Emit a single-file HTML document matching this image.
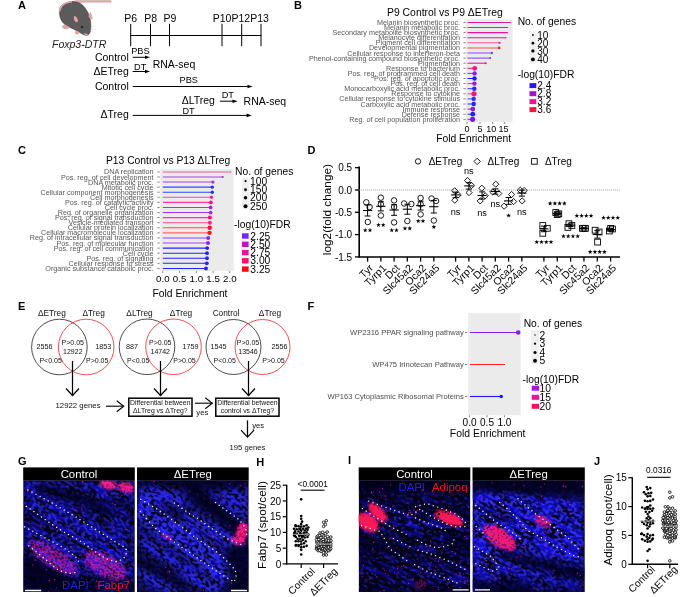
<!DOCTYPE html>
<html><head><meta charset="utf-8"><style>
html,body{margin:0;padding:0;background:#fff;}
body{width:685px;height:597px;overflow:hidden;}
svg{display:block;font-family:"Liberation Sans", sans-serif;will-change:transform;}
</style></head><body>
<svg width="685" height="597" viewBox="0 0 685 597">
<text x="18.00" y="9.30" font-size="11" text-anchor="start" fill="#000" font-weight="bold">A</text>
<text x="294.00" y="8.80" font-size="11" text-anchor="start" fill="#000" font-weight="bold">B</text>
<text x="18.00" y="153.70" font-size="11" text-anchor="start" fill="#000" font-weight="bold">C</text>
<text x="307.50" y="153.70" font-size="11" text-anchor="start" fill="#000" font-weight="bold">D</text>
<text x="18.00" y="310.00" font-size="11" text-anchor="start" fill="#000" font-weight="bold">E</text>
<text x="307.50" y="310.00" font-size="11" text-anchor="start" fill="#000" font-weight="bold">F</text>
<text x="18.00" y="465.30" font-size="11" text-anchor="start" fill="#000" font-weight="bold">G</text>
<text x="256.20" y="465.50" font-size="11" text-anchor="start" fill="#000" font-weight="bold">H</text>
<text x="348.00" y="463.50" font-size="11" text-anchor="start" fill="#000" font-weight="bold">I</text>
<text x="594.00" y="465.30" font-size="11" text-anchor="start" fill="#000" font-weight="bold">J</text>
<g>
<path d="M75,0.3 L111,0.3 L111,0.9 L75,0.9Z" fill="#8a8a8a" opacity="0.6"/>
<path d="M70,2 C80,1.2 95,1.6 111.5,1.6" stroke="#e3a3a3" stroke-width="1.9" fill="none"/>
<path d="M59.5,12.7 C59.5,7.6 60.5,6 63,4.5 C66,2.6 69,1.6 71.5,1.6 C75,1.8 78,2.2 80,3.2 C84,5.5 87,10 89,15 C90.5,19 91,24 90.8,28 C90.6,31.5 90,34 87.5,35.2 C85,35.6 82.5,34.5 79.5,32.2 C76,30.2 72.5,28.6 69,27 C65,25.2 62,22.5 60.5,18.5 C59.8,16.5 59.5,14.5 59.5,12.7Z" fill="#5b5b5b" stroke="#2e2e2e" stroke-width="0.5"/>
<path d="M59.8,11.5 C60.2,7 63,4.2 66,3 C68,2.2 70,1.8 72,1.7" stroke="#e7a3a3" stroke-width="1.5" fill="none"/>
<path d="M74.5,15.8 C76.2,16.5 78,18.5 78,21 C77.5,22.6 76,22.6 75,21.2 C73.8,19.8 73.3,17.5 74.5,15.8Z" fill="#e6a2a2"/>
<path d="M90.7,11.4 L92.7,18.4 L90.6,19.8 L88.3,16Z" fill="#e6a2a2"/>
<path d="M61.6,26.6 L64.5,24.4 L68.2,26 L68.6,28.9 L65.5,29.3 L63,28.3Z" fill="#e2a0a0"/>
<path d="M74.8,31.5 L77.8,30.8 L79.4,33 L77.5,34.6 L75.5,34Z" fill="#e2a0a0"/>
<path d="M83.2,33.4 L86.5,33.2 L88.2,34.8 L85.5,35.4Z" fill="#d89898"/>
<ellipse cx="82" cy="27" rx="1.3" ry="0.9" fill="#2a2020"/>
<path d="M90.5,27.5 L95.5,25.8 M90.5,29 L96,29.6 M90.2,30.5 L94.5,32.5 M76.5,34.5 L72.5,37.5 M78,35 L75.5,38 M80,35 L79,38" stroke="#d4d4d4" stroke-width="0.45"/>
</g>
<text x="52.00" y="47.60" font-size="10.5" text-anchor="start" fill="#222" font-style="italic">Foxp3-DTR</text>
<line x1="130.20" y1="35.50" x2="261.50" y2="35.50" stroke="#000" stroke-width="1"/>
<line x1="130.70" y1="23.80" x2="130.70" y2="46.20" stroke="#000" stroke-width="1"/>
<line x1="150.50" y1="23.80" x2="150.50" y2="46.20" stroke="#000" stroke-width="1"/>
<line x1="169.50" y1="23.80" x2="169.50" y2="46.20" stroke="#000" stroke-width="1"/>
<line x1="222.00" y1="23.80" x2="222.00" y2="46.20" stroke="#000" stroke-width="1"/>
<line x1="241.70" y1="23.80" x2="241.70" y2="46.20" stroke="#000" stroke-width="1"/>
<line x1="261.00" y1="23.80" x2="261.00" y2="46.20" stroke="#000" stroke-width="1"/>
<text x="130.70" y="21.80" font-size="10.5" text-anchor="middle" fill="#000">P6</text>
<text x="150.70" y="21.80" font-size="10.5" text-anchor="middle" fill="#000">P8</text>
<text x="170.00" y="21.80" font-size="10.5" text-anchor="middle" fill="#000">P9</text>
<text x="222.00" y="21.80" font-size="10.5" text-anchor="middle" fill="#000">P10</text>
<text x="240.80" y="21.80" font-size="10.5" text-anchor="middle" fill="#000">P12</text>
<text x="259.60" y="21.80" font-size="10.5" text-anchor="middle" fill="#000">P13</text>
<text x="128.80" y="60.60" font-size="10.5" text-anchor="end" fill="#000">Control</text>
<text x="140.40" y="54.00" font-size="9.2" text-anchor="middle" fill="#000">PBS</text>
<line x1="132.70" y1="57.30" x2="145.50" y2="57.30" stroke="#000" stroke-width="1"/>
<path d="M150.00,57.30 L145.00,55.50 L145.00,59.10 Z" fill="#000"/>
<text x="128.80" y="74.50" font-size="10.5" text-anchor="end" fill="#000">ΔETreg</text>
<text x="140.20" y="69.90" font-size="9.2" text-anchor="middle" fill="#000">DT</text>
<line x1="132.70" y1="71.50" x2="145.50" y2="71.50" stroke="#000" stroke-width="1"/>
<path d="M150.00,71.50 L145.00,69.70 L145.00,73.30 Z" fill="#000"/>
<text x="152.70" y="67.80" font-size="10.5" text-anchor="start" fill="#000">RNA-seq</text>
<text x="128.80" y="89.60" font-size="10.5" text-anchor="end" fill="#000">Control</text>
<line x1="132.70" y1="86.50" x2="248.00" y2="86.50" stroke="#000" stroke-width="1"/>
<path d="M252.50,86.50 L247.50,84.70 L247.50,88.30 Z" fill="#000"/>
<text x="188.80" y="83.00" font-size="9.2" text-anchor="middle" fill="#000">PBS</text>
<text x="181.70" y="103.80" font-size="10.5" text-anchor="start" fill="#000">ΔLTreg</text>
<text x="227.80" y="98.20" font-size="9.2" text-anchor="middle" fill="#000">DT</text>
<line x1="220.00" y1="101.20" x2="233.00" y2="101.20" stroke="#000" stroke-width="1"/>
<path d="M237.50,101.20 L232.50,99.40 L232.50,103.00 Z" fill="#000"/>
<text x="243.60" y="105.20" font-size="10.5" text-anchor="start" fill="#000">RNA-seq</text>
<text x="128.80" y="118.30" font-size="10.5" text-anchor="end" fill="#000">ΔTreg</text>
<text x="188.50" y="113.70" font-size="9.2" text-anchor="middle" fill="#000">DT</text>
<line x1="132.70" y1="115.40" x2="247.10" y2="115.40" stroke="#000" stroke-width="1"/>
<path d="M251.60,115.40 L246.60,113.60 L246.60,117.20 Z" fill="#000"/>
<text x="387.00" y="15.50" font-size="10.4" text-anchor="start" fill="#000">P9 Control vs P9 ΔETreg</text>
<rect x="466.00" y="19.30" width="46.60" height="102.60" fill="#EBEBEB"/>
<text x="460.00" y="24.95" font-size="7.2" text-anchor="end" fill="#575757">Melanin biosynthetic proc.</text>
<line x1="463.40" y1="22.40" x2="465.80" y2="22.40" stroke="#333" stroke-width="0.6"/>
<line x1="467.50" y1="22.40" x2="510.70" y2="22.40" stroke="#E4179F" stroke-width="1.05"/>
<circle cx="510.70" cy="22.40" r="0.60" fill="#E4179F"/>
<text x="460.00" y="30.05" font-size="7.2" text-anchor="end" fill="#575757">Melanin metabolic proc.</text>
<line x1="463.40" y1="27.50" x2="465.80" y2="27.50" stroke="#333" stroke-width="0.6"/>
<line x1="467.50" y1="27.50" x2="507.60" y2="27.50" stroke="#E4179F" stroke-width="1.05"/>
<circle cx="507.60" cy="27.50" r="0.60" fill="#E4179F"/>
<text x="460.00" y="35.15" font-size="7.2" text-anchor="end" fill="#575757">Secondary metabolite biosynthetic proc.</text>
<line x1="463.40" y1="32.60" x2="465.80" y2="32.60" stroke="#333" stroke-width="0.6"/>
<line x1="467.50" y1="32.60" x2="507.60" y2="32.60" stroke="#E4179F" stroke-width="1.05"/>
<circle cx="507.60" cy="32.60" r="0.60" fill="#E4179F"/>
<text x="460.00" y="40.25" font-size="7.2" text-anchor="end" fill="#575757">Melanocyte differentiation</text>
<line x1="463.40" y1="37.70" x2="465.80" y2="37.70" stroke="#333" stroke-width="0.6"/>
<line x1="467.50" y1="37.70" x2="505.80" y2="37.70" stroke="#E4179F" stroke-width="1.05"/>
<circle cx="505.80" cy="37.70" r="0.80" fill="#E4179F"/>
<text x="460.00" y="45.35" font-size="7.2" text-anchor="end" fill="#575757">Pigment cell differentiation</text>
<line x1="463.40" y1="42.80" x2="465.80" y2="42.80" stroke="#333" stroke-width="0.6"/>
<line x1="467.50" y1="42.80" x2="499.60" y2="42.80" stroke="#EE55AA" stroke-width="1.05"/>
<circle cx="499.60" cy="42.80" r="1.10" fill="#EE2299"/>
<text x="460.00" y="50.45" font-size="7.2" text-anchor="end" fill="#575757">Developmental pigmentation</text>
<line x1="463.40" y1="47.90" x2="465.80" y2="47.90" stroke="#333" stroke-width="0.6"/>
<line x1="467.50" y1="47.90" x2="499.20" y2="47.90" stroke="#F55050" stroke-width="1.05"/>
<circle cx="499.20" cy="47.90" r="1.30" fill="#FF2020"/>
<text x="460.00" y="55.55" font-size="7.2" text-anchor="end" fill="#575757">Cellular response to interferon-beta</text>
<line x1="463.40" y1="53.00" x2="465.80" y2="53.00" stroke="#333" stroke-width="0.6"/>
<line x1="467.50" y1="53.00" x2="491.90" y2="53.00" stroke="#9944FF" stroke-width="1.05"/>
<circle cx="491.90" cy="53.00" r="1.20" fill="#9933FF"/>
<text x="460.00" y="60.65" font-size="7.2" text-anchor="end" fill="#575757">Phenol-containing compound biosynthetic proc.</text>
<line x1="463.40" y1="58.10" x2="465.80" y2="58.10" stroke="#333" stroke-width="0.6"/>
<line x1="467.50" y1="58.10" x2="490.20" y2="58.10" stroke="#8844FF" stroke-width="1.05"/>
<circle cx="490.20" cy="58.10" r="1.00" fill="#8833FF"/>
<text x="460.00" y="65.75" font-size="7.2" text-anchor="end" fill="#575757">Pigmentation</text>
<line x1="463.40" y1="63.20" x2="465.80" y2="63.20" stroke="#333" stroke-width="0.6"/>
<line x1="467.50" y1="63.20" x2="485.70" y2="63.20" stroke="#EE1188" stroke-width="1.05"/>
<circle cx="485.70" cy="63.20" r="1.00" fill="#EE1188"/>
<text x="460.00" y="70.85" font-size="7.2" text-anchor="end" fill="#575757">Response to bacterium</text>
<line x1="463.40" y1="68.30" x2="465.80" y2="68.30" stroke="#333" stroke-width="0.6"/>
<line x1="467.50" y1="68.30" x2="474.70" y2="68.30" stroke="#F0187F" stroke-width="1.05"/>
<circle cx="474.70" cy="68.30" r="2.40" fill="#F0187F"/>
<text x="460.00" y="75.95" font-size="7.2" text-anchor="end" fill="#575757">Pos. reg. of programmed cell death</text>
<line x1="463.40" y1="73.40" x2="465.80" y2="73.40" stroke="#333" stroke-width="0.6"/>
<line x1="467.50" y1="73.40" x2="474.60" y2="73.40" stroke="#8030F0" stroke-width="1.05"/>
<circle cx="474.60" cy="73.40" r="2.20" fill="#8020F0"/>
<text x="460.00" y="81.05" font-size="7.2" text-anchor="end" fill="#575757">Pos. reg. of apoptotic proc.</text>
<line x1="463.40" y1="78.50" x2="465.80" y2="78.50" stroke="#333" stroke-width="0.6"/>
<line x1="467.50" y1="78.50" x2="474.50" y2="78.50" stroke="#1A1AFF" stroke-width="1.05"/>
<circle cx="474.50" cy="78.50" r="2.20" fill="#1A1AFF"/>
<text x="460.00" y="86.15" font-size="7.2" text-anchor="end" fill="#575757">Pos. reg. of cell death</text>
<line x1="463.40" y1="83.60" x2="465.80" y2="83.60" stroke="#333" stroke-width="0.6"/>
<line x1="467.50" y1="83.60" x2="474.40" y2="83.60" stroke="#A040E0" stroke-width="1.05"/>
<circle cx="474.40" cy="83.60" r="2.20" fill="#9A1CE0"/>
<text x="460.00" y="91.25" font-size="7.2" text-anchor="end" fill="#575757">Monocarboxylic acid metabolic proc.</text>
<line x1="463.40" y1="88.70" x2="465.80" y2="88.70" stroke="#333" stroke-width="0.6"/>
<line x1="467.50" y1="88.70" x2="474.30" y2="88.70" stroke="#3A3AFF" stroke-width="1.05"/>
<circle cx="474.30" cy="88.70" r="2.20" fill="#2A2AFF"/>
<text x="460.00" y="96.35" font-size="7.2" text-anchor="end" fill="#575757">Response to cytokine</text>
<line x1="463.40" y1="93.80" x2="465.80" y2="93.80" stroke="#333" stroke-width="0.6"/>
<line x1="467.50" y1="93.80" x2="474.00" y2="93.80" stroke="#F04090" stroke-width="1.05"/>
<circle cx="474.00" cy="93.80" r="2.60" fill="#F01A80"/>
<text x="460.00" y="101.45" font-size="7.2" text-anchor="end" fill="#575757">Cellular response to cytokine stimulus</text>
<line x1="463.40" y1="98.90" x2="465.80" y2="98.90" stroke="#333" stroke-width="0.6"/>
<line x1="467.50" y1="98.90" x2="473.70" y2="98.90" stroke="#5050FF" stroke-width="1.05"/>
<circle cx="473.70" cy="98.90" r="2.20" fill="#3030FF"/>
<text x="460.00" y="106.55" font-size="7.2" text-anchor="end" fill="#575757">Carboxylic acid metabolic proc.</text>
<line x1="463.40" y1="104.00" x2="465.80" y2="104.00" stroke="#333" stroke-width="0.6"/>
<line x1="467.50" y1="104.00" x2="473.70" y2="104.00" stroke="#3030FF" stroke-width="1.05"/>
<circle cx="473.70" cy="104.00" r="2.20" fill="#2020FF"/>
<text x="460.00" y="111.65" font-size="7.2" text-anchor="end" fill="#575757">Immune response</text>
<line x1="463.40" y1="109.10" x2="465.80" y2="109.10" stroke="#333" stroke-width="0.6"/>
<line x1="467.50" y1="109.10" x2="472.80" y2="109.10" stroke="#9030E0" stroke-width="1.05"/>
<circle cx="472.80" cy="109.10" r="2.40" fill="#8A1AE0"/>
<text x="460.00" y="116.75" font-size="7.2" text-anchor="end" fill="#575757">Defense response</text>
<line x1="463.40" y1="114.20" x2="465.80" y2="114.20" stroke="#333" stroke-width="0.6"/>
<line x1="467.50" y1="114.20" x2="472.80" y2="114.20" stroke="#3030FF" stroke-width="1.05"/>
<circle cx="472.80" cy="114.20" r="2.40" fill="#2020FF"/>
<text x="460.00" y="121.85" font-size="7.2" text-anchor="end" fill="#575757">Reg. of cell population proliferation</text>
<line x1="463.40" y1="119.30" x2="465.80" y2="119.30" stroke="#333" stroke-width="0.6"/>
<line x1="467.50" y1="119.30" x2="472.60" y2="119.30" stroke="#8030EE" stroke-width="1.05"/>
<circle cx="472.60" cy="119.30" r="2.60" fill="#7A1AEE"/>
<line x1="467.00" y1="122.00" x2="467.00" y2="124.00" stroke="#333" stroke-width="0.6"/>
<line x1="480.00" y1="122.00" x2="480.00" y2="124.00" stroke="#333" stroke-width="0.6"/>
<line x1="492.70" y1="122.00" x2="492.70" y2="124.00" stroke="#333" stroke-width="0.6"/>
<line x1="504.80" y1="122.00" x2="504.80" y2="124.00" stroke="#333" stroke-width="0.6"/>
<text x="467.00" y="132.00" font-size="9" text-anchor="middle" fill="#000">0</text>
<text x="480.00" y="132.00" font-size="9" text-anchor="middle" fill="#000">5</text>
<text x="491.30" y="132.00" font-size="9" text-anchor="middle" fill="#000">10</text>
<text x="503.50" y="132.00" font-size="9" text-anchor="middle" fill="#000">15</text>
<text x="473.70" y="142.40" font-size="10.3" text-anchor="middle" fill="#000">Fold Enrichment</text>
<text x="517.70" y="24.60" font-size="10.3" text-anchor="start" fill="#000">No. of genes</text>
<rect x="529.30" y="31.20" width="7.40" height="32.20" fill="#F0F0F0"/>
<circle cx="532.90" cy="34.90" r="0.90" fill="#000"/>
<text x="537.30" y="38.50" font-size="10" text-anchor="start" fill="#000">10</text>
<circle cx="532.90" cy="43.20" r="1.35" fill="#000"/>
<text x="537.30" y="46.80" font-size="10" text-anchor="start" fill="#000">20</text>
<circle cx="532.90" cy="50.90" r="1.65" fill="#000"/>
<text x="537.30" y="54.50" font-size="10" text-anchor="start" fill="#000">30</text>
<circle cx="532.90" cy="59.40" r="1.95" fill="#000"/>
<text x="537.30" y="63.00" font-size="10" text-anchor="start" fill="#000">40</text>
<text x="517.70" y="77.70" font-size="10.3" text-anchor="start" fill="#000">-log(10)FDR</text>
<rect x="529.50" y="83.10" width="6.80" height="5.00" fill="#3311FF"/>
<text x="537.30" y="89.10" font-size="10" text-anchor="start" fill="#000">2.4</text>
<rect x="529.50" y="91.20" width="6.80" height="5.00" fill="#AA11CC"/>
<text x="537.30" y="97.20" font-size="10" text-anchor="start" fill="#000">2.8</text>
<rect x="529.50" y="99.10" width="6.80" height="5.00" fill="#EE1199"/>
<text x="537.30" y="105.10" font-size="10" text-anchor="start" fill="#000">3.2</text>
<rect x="529.50" y="107.10" width="6.80" height="5.00" fill="#FF1144"/>
<text x="537.30" y="113.10" font-size="10" text-anchor="start" fill="#000">3.6</text>
<text x="106.00" y="164.30" font-size="10.3" text-anchor="start" fill="#000">P13 Control vs P13 ΔLTreg</text>
<rect x="160.30" y="168.80" width="73.40" height="102.20" fill="#EBEBEB"/>
<text x="153.60" y="174.45" font-size="7.2" text-anchor="end" fill="#575757">DNA replication</text>
<line x1="157.40" y1="171.90" x2="159.70" y2="171.90" stroke="#333" stroke-width="0.6"/>
<line x1="162.80" y1="171.90" x2="230.70" y2="171.90" stroke="#EE55AA" stroke-width="1.05"/>
<circle cx="230.70" cy="171.90" r="0.70" fill="#EE55AA"/>
<text x="153.60" y="179.53" font-size="7.2" text-anchor="end" fill="#575757">Pos. reg. of cell development</text>
<line x1="157.40" y1="176.98" x2="159.70" y2="176.98" stroke="#333" stroke-width="0.6"/>
<line x1="162.80" y1="176.98" x2="222.70" y2="176.98" stroke="#AA44EE" stroke-width="1.05"/>
<circle cx="222.70" cy="176.98" r="1.10" fill="#9933EE"/>
<text x="153.60" y="184.61" font-size="7.2" text-anchor="end" fill="#575757">DNA metabolic proc.</text>
<line x1="157.40" y1="182.06" x2="159.70" y2="182.06" stroke="#333" stroke-width="0.6"/>
<line x1="162.80" y1="182.06" x2="212.90" y2="182.06" stroke="#AA44DD" stroke-width="1.05"/>
<circle cx="212.90" cy="182.06" r="1.60" fill="#AA33DD"/>
<text x="153.60" y="189.69" font-size="7.2" text-anchor="end" fill="#575757">Mitotic cell cycle</text>
<line x1="157.40" y1="187.14" x2="159.70" y2="187.14" stroke="#333" stroke-width="0.6"/>
<line x1="162.80" y1="187.14" x2="212.30" y2="187.14" stroke="#3344FF" stroke-width="1.05"/>
<circle cx="212.30" cy="187.14" r="1.70" fill="#2233FF"/>
<text x="153.60" y="194.77" font-size="7.2" text-anchor="end" fill="#575757">Cellular component morphogenesis</text>
<line x1="157.40" y1="192.22" x2="159.70" y2="192.22" stroke="#333" stroke-width="0.6"/>
<line x1="162.80" y1="192.22" x2="212.30" y2="192.22" stroke="#3344FF" stroke-width="1.05"/>
<circle cx="212.30" cy="192.22" r="1.70" fill="#2233FF"/>
<text x="153.60" y="199.85" font-size="7.2" text-anchor="end" fill="#575757">Cell morphogenesis</text>
<line x1="157.40" y1="197.30" x2="159.70" y2="197.30" stroke="#333" stroke-width="0.6"/>
<line x1="162.80" y1="197.30" x2="211.50" y2="197.30" stroke="#EE44AA" stroke-width="1.05"/>
<circle cx="211.50" cy="197.30" r="1.70" fill="#EE2299"/>
<text x="153.60" y="204.93" font-size="7.2" text-anchor="end" fill="#575757">Pos. reg. of catalytic activity</text>
<line x1="157.40" y1="202.38" x2="159.70" y2="202.38" stroke="#333" stroke-width="0.6"/>
<line x1="162.80" y1="202.38" x2="210.90" y2="202.38" stroke="#FF3399" stroke-width="1.05"/>
<circle cx="210.90" cy="202.38" r="1.90" fill="#FF1188"/>
<text x="153.60" y="210.01" font-size="7.2" text-anchor="end" fill="#575757">Cell cycle proc.</text>
<line x1="157.40" y1="207.46" x2="159.70" y2="207.46" stroke="#333" stroke-width="0.6"/>
<line x1="162.80" y1="207.46" x2="210.60" y2="207.46" stroke="#AA33DD" stroke-width="1.05"/>
<circle cx="210.60" cy="207.46" r="1.90" fill="#AA22DD"/>
<text x="153.60" y="215.09" font-size="7.2" text-anchor="end" fill="#575757">Reg. of organelle organization</text>
<line x1="157.40" y1="212.54" x2="159.70" y2="212.54" stroke="#333" stroke-width="0.6"/>
<line x1="162.80" y1="212.54" x2="210.60" y2="212.54" stroke="#AA33DD" stroke-width="1.05"/>
<circle cx="210.60" cy="212.54" r="1.90" fill="#AA22DD"/>
<text x="153.60" y="220.17" font-size="7.2" text-anchor="end" fill="#575757">Pos. reg. of signal transduction</text>
<line x1="157.40" y1="217.62" x2="159.70" y2="217.62" stroke="#333" stroke-width="0.6"/>
<line x1="162.80" y1="217.62" x2="209.90" y2="217.62" stroke="#FF3388" stroke-width="1.05"/>
<circle cx="209.90" cy="217.62" r="2.00" fill="#FF1177"/>
<text x="153.60" y="225.25" font-size="7.2" text-anchor="end" fill="#575757">Vesicle-mediated transport</text>
<line x1="157.40" y1="222.70" x2="159.70" y2="222.70" stroke="#333" stroke-width="0.6"/>
<line x1="162.80" y1="222.70" x2="209.90" y2="222.70" stroke="#FF4499" stroke-width="1.05"/>
<circle cx="209.90" cy="222.70" r="2.00" fill="#FF2288"/>
<text x="153.60" y="230.33" font-size="7.2" text-anchor="end" fill="#575757">Cellular protein localization</text>
<line x1="157.40" y1="227.78" x2="159.70" y2="227.78" stroke="#333" stroke-width="0.6"/>
<line x1="162.80" y1="227.78" x2="209.70" y2="227.78" stroke="#FF4455" stroke-width="1.05"/>
<circle cx="209.70" cy="227.78" r="2.20" fill="#FF1133"/>
<text x="153.60" y="235.41" font-size="7.2" text-anchor="end" fill="#575757">Cellular macromolecule localization</text>
<line x1="157.40" y1="232.86" x2="159.70" y2="232.86" stroke="#333" stroke-width="0.6"/>
<line x1="162.80" y1="232.86" x2="209.50" y2="232.86" stroke="#FF6666" stroke-width="1.05"/>
<circle cx="209.50" cy="232.86" r="2.20" fill="#FF1111"/>
<text x="153.60" y="240.49" font-size="7.2" text-anchor="end" fill="#575757">Reg. of intracellular signal transduction</text>
<line x1="157.40" y1="237.94" x2="159.70" y2="237.94" stroke="#333" stroke-width="0.6"/>
<line x1="162.80" y1="237.94" x2="208.20" y2="237.94" stroke="#8844FF" stroke-width="1.05"/>
<circle cx="208.20" cy="237.94" r="2.00" fill="#7733FF"/>
<text x="153.60" y="245.57" font-size="7.2" text-anchor="end" fill="#575757">Pos. reg. of molecular function</text>
<line x1="157.40" y1="243.02" x2="159.70" y2="243.02" stroke="#333" stroke-width="0.6"/>
<line x1="162.80" y1="243.02" x2="208.00" y2="243.02" stroke="#AA44DD" stroke-width="1.05"/>
<circle cx="208.00" cy="243.02" r="2.00" fill="#9922DD"/>
<text x="153.60" y="250.65" font-size="7.2" text-anchor="end" fill="#575757">Pos. reg. of cell communication</text>
<line x1="157.40" y1="248.10" x2="159.70" y2="248.10" stroke="#333" stroke-width="0.6"/>
<line x1="162.80" y1="248.10" x2="207.20" y2="248.10" stroke="#2222FF" stroke-width="1.05"/>
<circle cx="207.20" cy="248.10" r="1.90" fill="#2222FF"/>
<text x="153.60" y="255.73" font-size="7.2" text-anchor="end" fill="#575757">Cell cycle</text>
<line x1="157.40" y1="253.18" x2="159.70" y2="253.18" stroke="#333" stroke-width="0.6"/>
<line x1="162.80" y1="253.18" x2="207.00" y2="253.18" stroke="#2222FF" stroke-width="1.05"/>
<circle cx="207.00" cy="253.18" r="1.90" fill="#2222FF"/>
<text x="153.60" y="260.81" font-size="7.2" text-anchor="end" fill="#575757">Pos. reg. of signaling</text>
<line x1="157.40" y1="258.26" x2="159.70" y2="258.26" stroke="#333" stroke-width="0.6"/>
<line x1="162.80" y1="258.26" x2="207.00" y2="258.26" stroke="#2222FF" stroke-width="1.05"/>
<circle cx="207.00" cy="258.26" r="1.90" fill="#2222FF"/>
<text x="153.60" y="265.89" font-size="7.2" text-anchor="end" fill="#575757">Cellular response to stress</text>
<line x1="157.40" y1="263.34" x2="159.70" y2="263.34" stroke="#333" stroke-width="0.6"/>
<line x1="162.80" y1="263.34" x2="206.80" y2="263.34" stroke="#2222FF" stroke-width="1.05"/>
<circle cx="206.80" cy="263.34" r="1.90" fill="#2222FF"/>
<text x="153.60" y="270.97" font-size="7.2" text-anchor="end" fill="#575757">Organic substance catabolic proc.</text>
<line x1="157.40" y1="268.42" x2="159.70" y2="268.42" stroke="#333" stroke-width="0.6"/>
<line x1="162.80" y1="268.42" x2="206.00" y2="268.42" stroke="#2222FF" stroke-width="1.05"/>
<circle cx="206.00" cy="268.42" r="2.00" fill="#2222FF"/>
<line x1="162.80" y1="271.00" x2="162.80" y2="273.00" stroke="#333" stroke-width="0.6"/>
<text x="162.80" y="281.80" font-size="9.7" text-anchor="middle" fill="#000">0.0</text>
<line x1="179.55" y1="271.00" x2="179.55" y2="273.00" stroke="#333" stroke-width="0.6"/>
<text x="179.55" y="281.80" font-size="9.7" text-anchor="middle" fill="#000">0.5</text>
<line x1="196.30" y1="271.00" x2="196.30" y2="273.00" stroke="#333" stroke-width="0.6"/>
<text x="196.30" y="281.80" font-size="9.7" text-anchor="middle" fill="#000">1.0</text>
<line x1="213.05" y1="271.00" x2="213.05" y2="273.00" stroke="#333" stroke-width="0.6"/>
<text x="213.05" y="281.80" font-size="9.7" text-anchor="middle" fill="#000">1.5</text>
<line x1="229.80" y1="271.00" x2="229.80" y2="273.00" stroke="#333" stroke-width="0.6"/>
<text x="229.80" y="281.80" font-size="9.7" text-anchor="middle" fill="#000">2.0</text>
<text x="190.00" y="297.20" font-size="10.3" text-anchor="middle" fill="#000">Fold Enrichment</text>
<text x="235.00" y="175.00" font-size="10.3" text-anchor="start" fill="#000">No. of genes</text>
<rect x="242.00" y="177.70" width="7.00" height="31.50" fill="#F0F0F0"/>
<circle cx="245.50" cy="181.10" r="1.10" fill="#000"/>
<text x="250.00" y="184.70" font-size="10.3" text-anchor="start" fill="#000">100</text>
<circle cx="245.50" cy="189.70" r="1.45" fill="#000"/>
<text x="250.00" y="193.30" font-size="10.3" text-anchor="start" fill="#000">150</text>
<circle cx="245.50" cy="197.80" r="1.75" fill="#000"/>
<text x="250.00" y="201.40" font-size="10.3" text-anchor="start" fill="#000">200</text>
<circle cx="245.50" cy="206.20" r="2.00" fill="#000"/>
<text x="250.00" y="209.80" font-size="10.3" text-anchor="start" fill="#000">250</text>
<text x="234.00" y="228.30" font-size="10.3" text-anchor="start" fill="#000">-log(10)FDR</text>
<rect x="242.00" y="233.30" width="6.60" height="5.40" fill="#7A22FF"/>
<text x="250.30" y="239.60" font-size="10.3" text-anchor="start" fill="#000">2.25</text>
<rect x="242.00" y="241.60" width="6.60" height="5.40" fill="#C010D0"/>
<text x="250.30" y="247.90" font-size="10.3" text-anchor="start" fill="#000">2.50</text>
<rect x="242.00" y="249.90" width="6.60" height="5.40" fill="#EE1199"/>
<text x="250.30" y="256.20" font-size="10.3" text-anchor="start" fill="#000">2.75</text>
<rect x="242.00" y="258.10" width="6.60" height="5.40" fill="#FF1166"/>
<text x="250.30" y="264.40" font-size="10.3" text-anchor="start" fill="#000">3.00</text>
<rect x="242.00" y="266.40" width="6.60" height="5.40" fill="#FF0A0A"/>
<text x="250.30" y="272.70" font-size="10.3" text-anchor="start" fill="#000">3.25</text>
<rect x="468.20" y="313.00" width="52.50" height="102.30" fill="#EBEBEB"/>
<text x="463.80" y="335.20" font-size="7.6" text-anchor="end" fill="#4D4D4D">WP2316 PPAR signaling pathway</text>
<line x1="465.00" y1="332.50" x2="467.30" y2="332.50" stroke="#333" stroke-width="0.6"/>
<line x1="470.00" y1="332.50" x2="518.20" y2="332.50" stroke="#8A1AEE" stroke-width="1.1"/>
<circle cx="518.20" cy="332.50" r="2.30" fill="#8A1AEE"/>
<text x="463.80" y="367.20" font-size="7.6" text-anchor="end" fill="#4D4D4D">WP475 Irinotecan Pathway</text>
<line x1="465.00" y1="364.50" x2="467.30" y2="364.50" stroke="#333" stroke-width="0.6"/>
<line x1="470.00" y1="364.50" x2="505.00" y2="364.50" stroke="#FF2020" stroke-width="1.1"/>
<text x="463.80" y="399.20" font-size="7.6" text-anchor="end" fill="#4D4D4D">WP163 Cytoplasmic Ribosomal Proteins</text>
<line x1="465.00" y1="396.50" x2="467.30" y2="396.50" stroke="#333" stroke-width="0.6"/>
<line x1="470.00" y1="396.50" x2="501.20" y2="396.50" stroke="#1A1AFF" stroke-width="1.1"/>
<circle cx="501.20" cy="396.50" r="1.80" fill="#1A1AFF"/>
<line x1="469.60" y1="415.30" x2="469.60" y2="417.30" stroke="#333" stroke-width="0.6"/>
<text x="469.60" y="425.80" font-size="10.1" text-anchor="middle" fill="#000">0.0</text>
<line x1="487.00" y1="415.30" x2="487.00" y2="417.30" stroke="#333" stroke-width="0.6"/>
<text x="487.00" y="425.80" font-size="10.1" text-anchor="middle" fill="#000">0.5</text>
<line x1="504.40" y1="415.30" x2="504.40" y2="417.30" stroke="#333" stroke-width="0.6"/>
<text x="504.40" y="425.80" font-size="10.1" text-anchor="middle" fill="#000">1.0</text>
<text x="487.70" y="437.40" font-size="10.4" text-anchor="middle" fill="#000">Fold Enrichment</text>
<text x="523.70" y="327.00" font-size="10.3" text-anchor="start" fill="#000">No. of genes</text>
<rect x="531.20" y="330.00" width="7.50" height="34.50" fill="#F0F0F0"/>
<circle cx="535.00" cy="335.00" r="0.70" fill="#000"/>
<text x="539.60" y="338.60" font-size="10.3" text-anchor="start" fill="#000">2</text>
<circle cx="535.00" cy="343.70" r="1.15" fill="#000"/>
<text x="539.60" y="347.30" font-size="10.3" text-anchor="start" fill="#000">3</text>
<circle cx="535.00" cy="352.50" r="1.55" fill="#000"/>
<text x="539.60" y="356.10" font-size="10.3" text-anchor="start" fill="#000">4</text>
<circle cx="535.00" cy="360.70" r="1.95" fill="#000"/>
<text x="539.60" y="364.30" font-size="10.3" text-anchor="start" fill="#000">5</text>
<text x="522.50" y="382.60" font-size="10.3" text-anchor="start" fill="#000">-log(10)FDR</text>
<rect x="531.70" y="385.70" width="7.30" height="5.00" fill="#B010E0"/>
<text x="539.60" y="391.80" font-size="10.3" text-anchor="start" fill="#000">10</text>
<rect x="531.70" y="394.80" width="7.30" height="5.00" fill="#EE1199"/>
<text x="539.60" y="400.90" font-size="10.3" text-anchor="start" fill="#000">15</text>
<rect x="531.70" y="403.80" width="7.30" height="5.00" fill="#FF1155"/>
<text x="539.60" y="409.90" font-size="10.3" text-anchor="start" fill="#000">20</text>
<circle cx="418" cy="161.4" r="2.7" fill="none" stroke="#000" stroke-width="0.9"/>
<text x="428.70" y="165.00" font-size="10" text-anchor="start" fill="#000">ΔETreg</text>
<path d="M477.2,158.2 L480.4,161.4 L477.2,164.6 L474,161.4Z" fill="none" stroke="#000" stroke-width="0.9"/>
<text x="487.50" y="165.00" font-size="10" text-anchor="start" fill="#000">ΔLTreg</text>
<rect x="531.6" y="158.6" width="5.6" height="5.6" fill="none" stroke="#000" stroke-width="0.9"/>
<text x="544.90" y="165.00" font-size="10" text-anchor="start" fill="#000">ΔTreg</text>
<line x1="359.20" y1="166.50" x2="359.20" y2="257.60" stroke="#000" stroke-width="1.6"/>
<line x1="355.00" y1="167.70" x2="359.20" y2="167.70" stroke="#000" stroke-width="1.3"/>
<text x="352.20" y="171.30" font-size="10" text-anchor="end" fill="#000">0.5</text>
<line x1="355.00" y1="190.00" x2="359.20" y2="190.00" stroke="#000" stroke-width="1.3"/>
<text x="352.20" y="193.60" font-size="10" text-anchor="end" fill="#000">0.0</text>
<line x1="355.00" y1="212.30" x2="359.20" y2="212.30" stroke="#000" stroke-width="1.3"/>
<text x="352.20" y="215.90" font-size="10" text-anchor="end" fill="#000">-0.5</text>
<line x1="355.00" y1="234.60" x2="359.20" y2="234.60" stroke="#000" stroke-width="1.3"/>
<text x="352.20" y="238.20" font-size="10" text-anchor="end" fill="#000">-1.0</text>
<line x1="355.00" y1="256.90" x2="359.20" y2="256.90" stroke="#000" stroke-width="1.3"/>
<text x="352.20" y="260.50" font-size="10" text-anchor="end" fill="#000">-1.5</text>
<line x1="359.20" y1="190.00" x2="620.00" y2="190.00" stroke="#999" stroke-width="0.9" stroke-dasharray="1,1"/>
<line x1="358.40" y1="257.00" x2="620.00" y2="257.00" stroke="#000" stroke-width="1.6"/>
<text x="0.00" y="0.00" font-size="11.8" text-anchor="middle" fill="#000" transform="translate(331.2,209.6) rotate(-90)">log2(fold change)</text>
<line x1="367.60" y1="257.00" x2="367.60" y2="261.60" stroke="#000" stroke-width="1.3"/>
<text x="0.00" y="0.00" font-size="10.4" text-anchor="end" fill="#000" transform="translate(373.80,268.6) rotate(-45)">Tyr</text>
<line x1="380.85" y1="257.00" x2="380.85" y2="261.60" stroke="#000" stroke-width="1.3"/>
<text x="0.00" y="0.00" font-size="10.4" text-anchor="end" fill="#000" transform="translate(387.05,268.6) rotate(-45)">Tyrp1</text>
<line x1="394.10" y1="257.00" x2="394.10" y2="261.60" stroke="#000" stroke-width="1.3"/>
<text x="0.00" y="0.00" font-size="10.4" text-anchor="end" fill="#000" transform="translate(400.30,268.6) rotate(-45)">Dct</text>
<line x1="407.35" y1="257.00" x2="407.35" y2="261.60" stroke="#000" stroke-width="1.3"/>
<text x="0.00" y="0.00" font-size="10.4" text-anchor="end" fill="#000" transform="translate(413.55,268.6) rotate(-45)">Slc45a2</text>
<line x1="420.60" y1="257.00" x2="420.60" y2="261.60" stroke="#000" stroke-width="1.3"/>
<text x="0.00" y="0.00" font-size="10.4" text-anchor="end" fill="#000" transform="translate(426.80,268.6) rotate(-45)">Oca2</text>
<line x1="433.85" y1="257.00" x2="433.85" y2="261.60" stroke="#000" stroke-width="1.3"/>
<text x="0.00" y="0.00" font-size="10.4" text-anchor="end" fill="#000" transform="translate(440.05,268.6) rotate(-45)">Slc24a5</text>
<line x1="455.60" y1="257.00" x2="455.60" y2="261.60" stroke="#000" stroke-width="1.3"/>
<text x="0.00" y="0.00" font-size="10.4" text-anchor="end" fill="#000" transform="translate(461.80,268.6) rotate(-45)">Tyr</text>
<line x1="468.85" y1="257.00" x2="468.85" y2="261.60" stroke="#000" stroke-width="1.3"/>
<text x="0.00" y="0.00" font-size="10.4" text-anchor="end" fill="#000" transform="translate(475.05,268.6) rotate(-45)">Tyrp1</text>
<line x1="482.10" y1="257.00" x2="482.10" y2="261.60" stroke="#000" stroke-width="1.3"/>
<text x="0.00" y="0.00" font-size="10.4" text-anchor="end" fill="#000" transform="translate(488.30,268.6) rotate(-45)">Dct</text>
<line x1="495.35" y1="257.00" x2="495.35" y2="261.60" stroke="#000" stroke-width="1.3"/>
<text x="0.00" y="0.00" font-size="10.4" text-anchor="end" fill="#000" transform="translate(501.55,268.6) rotate(-45)">Slc45a2</text>
<line x1="508.60" y1="257.00" x2="508.60" y2="261.60" stroke="#000" stroke-width="1.3"/>
<text x="0.00" y="0.00" font-size="10.4" text-anchor="end" fill="#000" transform="translate(514.80,268.6) rotate(-45)">Oca2</text>
<line x1="521.85" y1="257.00" x2="521.85" y2="261.60" stroke="#000" stroke-width="1.3"/>
<text x="0.00" y="0.00" font-size="10.4" text-anchor="end" fill="#000" transform="translate(528.05,268.6) rotate(-45)">Slc24a5</text>
<line x1="543.90" y1="257.00" x2="543.90" y2="261.60" stroke="#000" stroke-width="1.3"/>
<text x="0.00" y="0.00" font-size="10.4" text-anchor="end" fill="#000" transform="translate(550.10,268.6) rotate(-45)">Tyr</text>
<line x1="557.25" y1="257.00" x2="557.25" y2="261.60" stroke="#000" stroke-width="1.3"/>
<text x="0.00" y="0.00" font-size="10.4" text-anchor="end" fill="#000" transform="translate(563.45,268.6) rotate(-45)">Tyrp1</text>
<line x1="570.60" y1="257.00" x2="570.60" y2="261.60" stroke="#000" stroke-width="1.3"/>
<text x="0.00" y="0.00" font-size="10.4" text-anchor="end" fill="#000" transform="translate(576.80,268.6) rotate(-45)">Dct</text>
<line x1="583.95" y1="257.00" x2="583.95" y2="261.60" stroke="#000" stroke-width="1.3"/>
<text x="0.00" y="0.00" font-size="10.4" text-anchor="end" fill="#000" transform="translate(590.15,268.6) rotate(-45)">Slc45a2</text>
<line x1="597.30" y1="257.00" x2="597.30" y2="261.60" stroke="#000" stroke-width="1.3"/>
<text x="0.00" y="0.00" font-size="10.4" text-anchor="end" fill="#000" transform="translate(603.50,268.6) rotate(-45)">Oca2</text>
<line x1="610.65" y1="257.00" x2="610.65" y2="261.60" stroke="#000" stroke-width="1.3"/>
<text x="0.00" y="0.00" font-size="10.4" text-anchor="end" fill="#000" transform="translate(616.85,268.6) rotate(-45)">Slc24a5</text>
<circle cx="366.30" cy="202.30" r="2.75" fill="none" stroke="#000" stroke-width="0.9"/>
<circle cx="369.60" cy="207.00" r="2.75" fill="none" stroke="#000" stroke-width="0.9"/>
<circle cx="367.80" cy="222.00" r="2.75" fill="none" stroke="#000" stroke-width="0.9"/>
<line x1="367.60" y1="205.00" x2="367.60" y2="216.00" stroke="#000" stroke-width="1"/>
<line x1="363.00" y1="210.50" x2="372.20" y2="210.50" stroke="#000" stroke-width="1.1"/>
<line x1="364.60" y1="205.00" x2="370.60" y2="205.00" stroke="#000" stroke-width="1"/>
<line x1="364.60" y1="216.00" x2="370.60" y2="216.00" stroke="#000" stroke-width="1"/>
<path d="M365.23,227.85 L365.81,229.49 L367.56,229.54 L366.18,230.61 L366.67,232.28 L365.23,231.30 L363.78,232.28 L364.27,230.61 L362.89,229.54 L364.64,229.49Z M369.98,227.85 L370.56,229.49 L372.31,229.54 L370.93,230.61 L371.42,232.28 L369.98,231.30 L368.53,232.28 L369.02,230.61 L367.64,229.54 L369.39,229.49Z" fill="#000"/>
<circle cx="380.85" cy="197.70" r="2.75" fill="none" stroke="#000" stroke-width="0.9"/>
<circle cx="380.85" cy="204.30" r="2.75" fill="none" stroke="#000" stroke-width="0.9"/>
<circle cx="380.85" cy="215.50" r="2.75" fill="none" stroke="#000" stroke-width="0.9"/>
<line x1="380.85" y1="201.70" x2="380.85" y2="210.90" stroke="#000" stroke-width="1"/>
<line x1="376.25" y1="206.30" x2="385.45" y2="206.30" stroke="#000" stroke-width="1.1"/>
<line x1="377.85" y1="201.70" x2="383.85" y2="201.70" stroke="#000" stroke-width="1"/>
<line x1="377.85" y1="210.90" x2="383.85" y2="210.90" stroke="#000" stroke-width="1"/>
<path d="M378.48,222.55 L379.06,224.19 L380.81,224.24 L379.43,225.31 L379.92,226.98 L378.48,226.00 L377.03,226.98 L377.52,225.31 L376.14,224.24 L377.89,224.19Z M383.23,222.55 L383.81,224.19 L385.56,224.24 L384.18,225.31 L384.67,226.98 L383.23,226.00 L381.78,226.98 L382.27,225.31 L380.89,224.24 L382.64,224.19Z" fill="#000"/>
<circle cx="394.10" cy="200.40" r="2.75" fill="none" stroke="#000" stroke-width="0.9"/>
<circle cx="394.10" cy="207.00" r="2.75" fill="none" stroke="#000" stroke-width="0.9"/>
<circle cx="394.10" cy="222.40" r="2.75" fill="none" stroke="#000" stroke-width="0.9"/>
<line x1="394.10" y1="204.70" x2="394.10" y2="215.30" stroke="#000" stroke-width="1"/>
<line x1="389.50" y1="210.00" x2="398.70" y2="210.00" stroke="#000" stroke-width="1.1"/>
<line x1="391.10" y1="204.70" x2="397.10" y2="204.70" stroke="#000" stroke-width="1"/>
<line x1="391.10" y1="215.30" x2="397.10" y2="215.30" stroke="#000" stroke-width="1"/>
<path d="M391.73,227.85 L392.31,229.49 L394.06,229.54 L392.68,230.61 L393.17,232.28 L391.73,231.30 L390.28,232.28 L390.77,230.61 L389.39,229.54 L391.14,229.49Z M396.48,227.85 L397.06,229.49 L398.81,229.54 L397.43,230.61 L397.92,232.28 L396.48,231.30 L395.03,232.28 L395.52,230.61 L394.14,229.54 L395.89,229.49Z" fill="#000"/>
<circle cx="404.15" cy="203.50" r="2.75" fill="none" stroke="#000" stroke-width="0.9"/>
<circle cx="411.35" cy="204.00" r="2.75" fill="none" stroke="#000" stroke-width="0.9"/>
<circle cx="407.35" cy="221.00" r="2.75" fill="none" stroke="#000" stroke-width="0.9"/>
<line x1="407.35" y1="204.20" x2="407.35" y2="214.20" stroke="#000" stroke-width="1"/>
<line x1="402.75" y1="209.20" x2="411.95" y2="209.20" stroke="#000" stroke-width="1.1"/>
<line x1="404.35" y1="204.20" x2="410.35" y2="204.20" stroke="#000" stroke-width="1"/>
<line x1="404.35" y1="214.20" x2="410.35" y2="214.20" stroke="#000" stroke-width="1"/>
<path d="M404.98,225.95 L405.56,227.59 L407.31,227.64 L405.93,228.71 L406.42,230.38 L404.98,229.40 L403.53,230.38 L404.02,228.71 L402.64,227.64 L404.39,227.59Z M409.73,225.95 L410.31,227.59 L412.06,227.64 L410.68,228.71 L411.17,230.38 L409.73,229.40 L408.28,230.38 L408.77,228.71 L407.39,227.64 L409.14,227.59Z" fill="#000"/>
<circle cx="420.60" cy="198.00" r="2.75" fill="none" stroke="#000" stroke-width="0.9"/>
<circle cx="420.60" cy="204.30" r="2.75" fill="none" stroke="#000" stroke-width="0.9"/>
<circle cx="420.60" cy="214.40" r="2.75" fill="none" stroke="#000" stroke-width="0.9"/>
<line x1="420.60" y1="201.20" x2="420.60" y2="210.00" stroke="#000" stroke-width="1"/>
<line x1="416.00" y1="205.60" x2="425.20" y2="205.60" stroke="#000" stroke-width="1.1"/>
<line x1="417.60" y1="201.20" x2="423.60" y2="201.20" stroke="#000" stroke-width="1"/>
<line x1="417.60" y1="210.00" x2="423.60" y2="210.00" stroke="#000" stroke-width="1"/>
<path d="M418.23,218.65 L418.81,220.29 L420.56,220.34 L419.18,221.41 L419.67,223.08 L418.23,222.10 L416.78,223.08 L417.27,221.41 L415.89,220.34 L417.64,220.29Z M422.98,218.65 L423.56,220.29 L425.31,220.34 L423.93,221.41 L424.42,223.08 L422.98,222.10 L421.53,223.08 L422.02,221.41 L420.64,220.34 L422.39,220.29Z" fill="#000"/>
<circle cx="431.55" cy="198.50" r="2.75" fill="none" stroke="#000" stroke-width="0.9"/>
<circle cx="436.05" cy="201.00" r="2.75" fill="none" stroke="#000" stroke-width="0.9"/>
<circle cx="433.85" cy="220.50" r="2.75" fill="none" stroke="#000" stroke-width="0.9"/>
<line x1="433.85" y1="200.40" x2="433.85" y2="213.00" stroke="#000" stroke-width="1"/>
<line x1="429.25" y1="206.70" x2="438.45" y2="206.70" stroke="#000" stroke-width="1.1"/>
<line x1="430.85" y1="200.40" x2="436.85" y2="200.40" stroke="#000" stroke-width="1"/>
<line x1="430.85" y1="213.00" x2="436.85" y2="213.00" stroke="#000" stroke-width="1"/>
<path d="M433.85,224.45 L434.44,226.09 L436.18,226.14 L434.80,227.21 L435.29,228.88 L433.85,227.90 L432.41,228.88 L432.90,227.21 L431.52,226.14 L433.26,226.09Z" fill="#000"/>
<path d="M454.70,187.70 L457.80,190.80 L454.70,193.90 L451.60,190.80Z" fill="none" stroke="#000" stroke-width="0.9"/>
<path d="M458.20,191.80 L461.30,194.90 L458.20,198.00 L455.10,194.90Z" fill="none" stroke="#000" stroke-width="0.9"/>
<path d="M454.80,197.10 L457.90,200.20 L454.80,203.30 L451.70,200.20Z" fill="none" stroke="#000" stroke-width="0.9"/>
<line x1="455.60" y1="192.10" x2="455.60" y2="197.70" stroke="#000" stroke-width="1"/>
<line x1="451.00" y1="194.90" x2="460.20" y2="194.90" stroke="#000" stroke-width="1.1"/>
<line x1="452.60" y1="192.10" x2="458.60" y2="192.10" stroke="#000" stroke-width="1"/>
<line x1="452.60" y1="197.70" x2="458.60" y2="197.70" stroke="#000" stroke-width="1"/>
<text x="455.60" y="214.60" font-size="9.2" text-anchor="middle" fill="#000">ns</text>
<path d="M467.55,177.40 L470.65,180.50 L467.55,183.60 L464.45,180.50Z" fill="none" stroke="#000" stroke-width="0.9"/>
<path d="M471.55,182.40 L474.65,185.50 L471.55,188.60 L468.45,185.50Z" fill="none" stroke="#000" stroke-width="0.9"/>
<path d="M469.05,189.50 L472.15,192.60 L469.05,195.70 L465.95,192.60Z" fill="none" stroke="#000" stroke-width="0.9"/>
<line x1="468.85" y1="182.70" x2="468.85" y2="189.10" stroke="#000" stroke-width="1"/>
<line x1="464.25" y1="185.90" x2="473.45" y2="185.90" stroke="#000" stroke-width="1.1"/>
<line x1="465.85" y1="182.70" x2="471.85" y2="182.70" stroke="#000" stroke-width="1"/>
<line x1="465.85" y1="189.10" x2="471.85" y2="189.10" stroke="#000" stroke-width="1"/>
<text x="468.85" y="174.40" font-size="9.2" text-anchor="middle" fill="#000">ns</text>
<path d="M481.80,185.10 L484.90,188.20 L481.80,191.30 L478.70,188.20Z" fill="none" stroke="#000" stroke-width="0.9"/>
<path d="M485.20,192.70 L488.30,195.80 L485.20,198.90 L482.10,195.80Z" fill="none" stroke="#000" stroke-width="0.9"/>
<path d="M480.20,197.80 L483.30,200.90 L480.20,204.00 L477.10,200.90Z" fill="none" stroke="#000" stroke-width="0.9"/>
<line x1="482.10" y1="191.90" x2="482.10" y2="199.10" stroke="#000" stroke-width="1"/>
<line x1="477.50" y1="195.50" x2="486.70" y2="195.50" stroke="#000" stroke-width="1.1"/>
<line x1="479.10" y1="191.90" x2="485.10" y2="191.90" stroke="#000" stroke-width="1"/>
<line x1="479.10" y1="199.10" x2="485.10" y2="199.10" stroke="#000" stroke-width="1"/>
<text x="482.10" y="216.00" font-size="9.2" text-anchor="middle" fill="#000">ns</text>
<path d="M495.75,181.10 L498.85,184.20 L495.75,187.30 L492.65,184.20Z" fill="none" stroke="#000" stroke-width="0.9"/>
<path d="M492.75,188.90 L495.85,192.00 L492.75,195.10 L489.65,192.00Z" fill="none" stroke="#000" stroke-width="0.9"/>
<path d="M498.75,190.40 L501.85,193.50 L498.75,196.60 L495.65,193.50Z" fill="none" stroke="#000" stroke-width="0.9"/>
<line x1="495.35" y1="188.90" x2="495.35" y2="194.10" stroke="#000" stroke-width="1"/>
<line x1="490.75" y1="191.50" x2="499.95" y2="191.50" stroke="#000" stroke-width="1.1"/>
<line x1="492.35" y1="188.90" x2="498.35" y2="188.90" stroke="#000" stroke-width="1"/>
<line x1="492.35" y1="194.10" x2="498.35" y2="194.10" stroke="#000" stroke-width="1"/>
<text x="495.35" y="207.20" font-size="9.2" text-anchor="middle" fill="#000">ns</text>
<path d="M511.60,191.40 L514.70,194.50 L511.60,197.60 L508.50,194.50Z" fill="none" stroke="#000" stroke-width="0.9"/>
<path d="M513.60,198.50 L516.70,201.60 L513.60,204.70 L510.50,201.60Z" fill="none" stroke="#000" stroke-width="0.9"/>
<path d="M504.10,203.10 L507.20,206.20 L504.10,209.30 L501.00,206.20Z" fill="none" stroke="#000" stroke-width="0.9"/>
<line x1="508.60" y1="197.50" x2="508.60" y2="204.30" stroke="#000" stroke-width="1"/>
<line x1="504.00" y1="200.90" x2="513.20" y2="200.90" stroke="#000" stroke-width="1.1"/>
<line x1="505.60" y1="197.50" x2="511.60" y2="197.50" stroke="#000" stroke-width="1"/>
<line x1="505.60" y1="204.30" x2="511.60" y2="204.30" stroke="#000" stroke-width="1"/>
<path d="M508.60,213.15 L509.19,214.79 L510.93,214.84 L509.55,215.91 L510.04,217.58 L508.60,216.60 L507.16,217.58 L507.65,215.91 L506.27,214.84 L508.01,214.79Z" fill="#000"/>
<path d="M520.25,187.10 L523.35,190.20 L520.25,193.30 L517.15,190.20Z" fill="none" stroke="#000" stroke-width="0.9"/>
<path d="M524.15,187.40 L527.25,190.50 L524.15,193.60 L521.05,190.50Z" fill="none" stroke="#000" stroke-width="0.9"/>
<path d="M522.15,197.80 L525.25,200.90 L522.15,204.00 L519.05,200.90Z" fill="none" stroke="#000" stroke-width="0.9"/>
<line x1="521.85" y1="190.10" x2="521.85" y2="196.10" stroke="#000" stroke-width="1"/>
<line x1="517.25" y1="193.10" x2="526.45" y2="193.10" stroke="#000" stroke-width="1.1"/>
<line x1="518.85" y1="190.10" x2="524.85" y2="190.10" stroke="#000" stroke-width="1"/>
<line x1="518.85" y1="196.10" x2="524.85" y2="196.10" stroke="#000" stroke-width="1"/>
<text x="521.85" y="214.60" font-size="9.2" text-anchor="middle" fill="#000">ns</text>
<rect x="539.90" y="222.60" width="5.8" height="5.8" fill="none" stroke="#000" stroke-width="0.9"/>
<rect x="544.40" y="225.40" width="5.8" height="5.8" fill="none" stroke="#000" stroke-width="0.9"/>
<rect x="539.90" y="230.40" width="5.8" height="5.8" fill="none" stroke="#000" stroke-width="0.9"/>
<line x1="543.90" y1="226.10" x2="543.90" y2="231.70" stroke="#000" stroke-width="1"/>
<line x1="539.30" y1="228.90" x2="548.50" y2="228.90" stroke="#000" stroke-width="1.1"/>
<line x1="540.90" y1="226.10" x2="546.90" y2="226.10" stroke="#000" stroke-width="1"/>
<line x1="540.90" y1="231.70" x2="546.90" y2="231.70" stroke="#000" stroke-width="1"/>
<path d="M536.77,239.65 L537.36,241.29 L539.11,241.34 L537.73,242.41 L538.22,244.08 L536.77,243.10 L535.33,244.08 L535.82,242.41 L534.44,241.34 L536.19,241.29Z M541.52,239.65 L542.11,241.29 L543.86,241.34 L542.48,242.41 L542.97,244.08 L541.52,243.10 L540.08,244.08 L540.57,242.41 L539.19,241.34 L540.94,241.29Z M546.27,239.65 L546.86,241.29 L548.61,241.34 L547.23,242.41 L547.72,244.08 L546.27,243.10 L544.83,244.08 L545.32,242.41 L543.94,241.34 L545.69,241.29Z M551.02,239.65 L551.61,241.29 L553.36,241.34 L551.98,242.41 L552.47,244.08 L551.02,243.10 L549.58,244.08 L550.07,242.41 L548.69,241.34 L550.44,241.29Z" fill="#000"/>
<rect x="552.85" y="209.60" width="5.8" height="5.8" fill="none" stroke="#000" stroke-width="0.9"/>
<rect x="555.85" y="210.90" width="5.8" height="5.8" fill="none" stroke="#000" stroke-width="0.9"/>
<rect x="554.35" y="211.70" width="5.8" height="5.8" fill="none" stroke="#000" stroke-width="0.9"/>
<line x1="557.25" y1="212.80" x2="557.25" y2="214.40" stroke="#000" stroke-width="1"/>
<line x1="552.65" y1="213.60" x2="561.85" y2="213.60" stroke="#000" stroke-width="1.1"/>
<line x1="554.25" y1="212.80" x2="560.25" y2="212.80" stroke="#000" stroke-width="1"/>
<line x1="554.25" y1="214.40" x2="560.25" y2="214.40" stroke="#000" stroke-width="1"/>
<path d="M550.12,200.95 L550.71,202.59 L552.46,202.64 L551.08,203.71 L551.57,205.38 L550.12,204.40 L548.68,205.38 L549.17,203.71 L547.79,202.64 L549.54,202.59Z M554.88,200.95 L555.46,202.59 L557.21,202.64 L555.83,203.71 L556.32,205.38 L554.88,204.40 L553.43,205.38 L553.92,203.71 L552.54,202.64 L554.29,202.59Z M559.62,200.95 L560.21,202.59 L561.96,202.64 L560.58,203.71 L561.07,205.38 L559.62,204.40 L558.18,205.38 L558.67,203.71 L557.29,202.64 L559.04,202.59Z M564.38,200.95 L564.96,202.59 L566.71,202.64 L565.33,203.71 L565.82,205.38 L564.38,204.40 L562.93,205.38 L563.42,203.71 L562.04,202.64 L563.79,202.59Z" fill="#000"/>
<rect x="566.00" y="220.80" width="5.8" height="5.8" fill="none" stroke="#000" stroke-width="0.9"/>
<rect x="569.00" y="222.60" width="5.8" height="5.8" fill="none" stroke="#000" stroke-width="0.9"/>
<rect x="565.00" y="224.50" width="5.8" height="5.8" fill="none" stroke="#000" stroke-width="0.9"/>
<line x1="570.60" y1="223.90" x2="570.60" y2="226.50" stroke="#000" stroke-width="1"/>
<line x1="566.00" y1="225.20" x2="575.20" y2="225.20" stroke="#000" stroke-width="1.1"/>
<line x1="567.60" y1="223.90" x2="573.60" y2="223.90" stroke="#000" stroke-width="1"/>
<line x1="567.60" y1="226.50" x2="573.60" y2="226.50" stroke="#000" stroke-width="1"/>
<path d="M563.48,233.75 L564.06,235.39 L565.81,235.44 L564.43,236.51 L564.92,238.18 L563.48,237.20 L562.03,238.18 L562.52,236.51 L561.14,235.44 L562.89,235.39Z M568.23,233.75 L568.81,235.39 L570.56,235.44 L569.18,236.51 L569.67,238.18 L568.23,237.20 L566.78,238.18 L567.27,236.51 L565.89,235.44 L567.64,235.39Z M572.98,233.75 L573.56,235.39 L575.31,235.44 L573.93,236.51 L574.42,238.18 L572.98,237.20 L571.53,238.18 L572.02,236.51 L570.64,235.44 L572.39,235.39Z M577.73,233.75 L578.31,235.39 L580.06,235.44 L578.68,236.51 L579.17,238.18 L577.73,237.20 L576.28,238.18 L576.77,236.51 L575.39,235.44 L577.14,235.39Z" fill="#000"/>
<rect x="579.55" y="225.40" width="5.8" height="5.8" fill="none" stroke="#000" stroke-width="0.9"/>
<rect x="582.55" y="225.40" width="5.8" height="5.8" fill="none" stroke="#000" stroke-width="0.9"/>
<rect x="581.05" y="225.50" width="5.8" height="5.8" fill="none" stroke="#000" stroke-width="0.9"/>
<line x1="583.95" y1="227.70" x2="583.95" y2="228.90" stroke="#000" stroke-width="1"/>
<line x1="579.35" y1="228.30" x2="588.55" y2="228.30" stroke="#000" stroke-width="1.1"/>
<line x1="580.95" y1="227.70" x2="586.95" y2="227.70" stroke="#000" stroke-width="1"/>
<line x1="580.95" y1="228.90" x2="586.95" y2="228.90" stroke="#000" stroke-width="1"/>
<path d="M576.82,213.35 L577.41,214.99 L579.16,215.04 L577.78,216.11 L578.27,217.78 L576.82,216.80 L575.38,217.78 L575.87,216.11 L574.49,215.04 L576.24,214.99Z M581.57,213.35 L582.16,214.99 L583.91,215.04 L582.53,216.11 L583.02,217.78 L581.57,216.80 L580.13,217.78 L580.62,216.11 L579.24,215.04 L580.99,214.99Z M586.32,213.35 L586.91,214.99 L588.66,215.04 L587.28,216.11 L587.77,217.78 L586.32,216.80 L584.88,217.78 L585.37,216.11 L583.99,215.04 L585.74,214.99Z M591.07,213.35 L591.66,214.99 L593.41,215.04 L592.03,216.11 L592.52,217.78 L591.07,216.80 L589.63,217.78 L590.12,216.11 L588.74,215.04 L590.49,214.99Z" fill="#000"/>
<rect x="592.20" y="227.30" width="5.8" height="5.8" fill="none" stroke="#000" stroke-width="0.9"/>
<rect x="596.20" y="229.10" width="5.8" height="5.8" fill="none" stroke="#000" stroke-width="0.9"/>
<rect x="594.70" y="239.20" width="5.8" height="5.8" fill="none" stroke="#000" stroke-width="0.9"/>
<line x1="597.30" y1="230.70" x2="597.30" y2="238.10" stroke="#000" stroke-width="1"/>
<line x1="592.70" y1="234.40" x2="601.90" y2="234.40" stroke="#000" stroke-width="1.1"/>
<line x1="594.30" y1="230.70" x2="600.30" y2="230.70" stroke="#000" stroke-width="1"/>
<line x1="594.30" y1="238.10" x2="600.30" y2="238.10" stroke="#000" stroke-width="1"/>
<path d="M590.17,249.45 L590.76,251.09 L592.51,251.14 L591.13,252.21 L591.62,253.88 L590.17,252.90 L588.73,253.88 L589.22,252.21 L587.84,251.14 L589.59,251.09Z M594.92,249.45 L595.51,251.09 L597.26,251.14 L595.88,252.21 L596.37,253.88 L594.92,252.90 L593.48,253.88 L593.97,252.21 L592.59,251.14 L594.34,251.09Z M599.67,249.45 L600.26,251.09 L602.01,251.14 L600.63,252.21 L601.12,253.88 L599.67,252.90 L598.23,253.88 L598.72,252.21 L597.34,251.14 L599.09,251.09Z M604.42,249.45 L605.01,251.09 L606.76,251.14 L605.38,252.21 L605.87,253.88 L604.42,252.90 L602.98,253.88 L603.47,252.21 L602.09,251.14 L603.84,251.09Z" fill="#000"/>
<rect x="606.55" y="228.10" width="5.8" height="5.8" fill="none" stroke="#000" stroke-width="0.9"/>
<rect x="609.55" y="226.10" width="5.8" height="5.8" fill="none" stroke="#000" stroke-width="0.9"/>
<rect x="607.75" y="225.50" width="5.8" height="5.8" fill="none" stroke="#000" stroke-width="0.9"/>
<line x1="610.65" y1="228.60" x2="610.65" y2="230.60" stroke="#000" stroke-width="1"/>
<line x1="606.05" y1="229.60" x2="615.25" y2="229.60" stroke="#000" stroke-width="1.1"/>
<line x1="607.65" y1="228.60" x2="613.65" y2="228.60" stroke="#000" stroke-width="1"/>
<line x1="607.65" y1="230.60" x2="613.65" y2="230.60" stroke="#000" stroke-width="1"/>
<path d="M603.52,215.35 L604.11,216.99 L605.86,217.04 L604.48,218.11 L604.97,219.78 L603.52,218.80 L602.08,219.78 L602.57,218.11 L601.19,217.04 L602.94,216.99Z M608.27,215.35 L608.86,216.99 L610.61,217.04 L609.23,218.11 L609.72,219.78 L608.27,218.80 L606.83,219.78 L607.32,218.11 L605.94,217.04 L607.69,216.99Z M613.02,215.35 L613.61,216.99 L615.36,217.04 L613.98,218.11 L614.47,219.78 L613.02,218.80 L611.58,219.78 L612.07,218.11 L610.69,217.04 L612.44,216.99Z M617.77,215.35 L618.36,216.99 L620.11,217.04 L618.73,218.11 L619.22,219.78 L617.77,218.80 L616.33,219.78 L616.82,218.11 L615.44,217.04 L617.19,216.99Z" fill="#000"/>
<circle cx="59.4" cy="347" r="27.8" fill="none" stroke="#222" stroke-width="0.8"/>
<circle cx="86.2" cy="347" r="27.8" fill="none" stroke="#E8262B" stroke-width="0.8"/>
<text x="51.90" y="316.00" font-size="8.3" text-anchor="middle" fill="#111">ΔETreg</text>
<text x="93.70" y="316.00" font-size="8.3" text-anchor="middle" fill="#111">ΔTreg</text>
<text x="44.40" y="349.20" font-size="7.2" text-anchor="middle" fill="#111">2556</text>
<text x="72.80" y="345.40" font-size="7" text-anchor="middle" fill="#111">P&gt;0.05</text>
<text x="72.80" y="353.50" font-size="7" text-anchor="middle" fill="#111">12922</text>
<text x="103.20" y="349.20" font-size="7.2" text-anchor="middle" fill="#111">1853</text>
<text x="50.60" y="363.20" font-size="7" text-anchor="middle" fill="#111">P&lt;0.05</text>
<text x="97.20" y="363.20" font-size="7" text-anchor="middle" fill="#111">P&gt;0.05</text>
<circle cx="147" cy="346.8" r="27.8" fill="none" stroke="#222" stroke-width="0.8"/>
<circle cx="173.5" cy="346.8" r="27.8" fill="none" stroke="#E8262B" stroke-width="0.8"/>
<text x="139.50" y="316.00" font-size="8.3" text-anchor="middle" fill="#111">ΔLTreg</text>
<text x="181.00" y="316.00" font-size="8.3" text-anchor="middle" fill="#111">ΔTreg</text>
<text x="132.00" y="349.20" font-size="7.2" text-anchor="middle" fill="#111">887</text>
<text x="160.25" y="345.40" font-size="7" text-anchor="middle" fill="#111">P&gt;0.05</text>
<text x="160.25" y="353.50" font-size="7" text-anchor="middle" fill="#111">14742</text>
<text x="190.50" y="349.20" font-size="7.2" text-anchor="middle" fill="#111">1759</text>
<text x="138.20" y="363.20" font-size="7" text-anchor="middle" fill="#111">P&lt;0.05</text>
<text x="184.50" y="363.20" font-size="7" text-anchor="middle" fill="#111">P&gt;0.05</text>
<circle cx="233.5" cy="347" r="27.5" fill="none" stroke="#222" stroke-width="0.8"/>
<circle cx="262.5" cy="347" r="27.5" fill="none" stroke="#E8262B" stroke-width="0.8"/>
<text x="226.00" y="316.00" font-size="8.3" text-anchor="middle" fill="#111">Control</text>
<text x="270.00" y="316.00" font-size="8.3" text-anchor="middle" fill="#111">ΔTreg</text>
<text x="218.50" y="349.20" font-size="7.2" text-anchor="middle" fill="#111">1545</text>
<text x="248.00" y="345.40" font-size="7" text-anchor="middle" fill="#111">P&gt;0.05</text>
<text x="248.00" y="353.50" font-size="7" text-anchor="middle" fill="#111">13546</text>
<text x="279.50" y="349.20" font-size="7.2" text-anchor="middle" fill="#111">2556</text>
<text x="224.70" y="363.20" font-size="7" text-anchor="middle" fill="#111">P&lt;0.05</text>
<text x="273.50" y="363.20" font-size="7" text-anchor="middle" fill="#111">P&gt;0.05</text>
<line x1="72.50" y1="361.00" x2="72.50" y2="395.50" stroke="#000" stroke-width="1.25"/>
<path d="M66.00,388.50 L72.50,395.50 L79.00,388.50" fill="none" stroke="#000" stroke-width="1.2"/>
<line x1="160.50" y1="361.00" x2="160.50" y2="395.50" stroke="#000" stroke-width="1.25"/>
<path d="M154.00,388.50 L160.50,395.50 L167.00,388.50" fill="none" stroke="#000" stroke-width="1.2"/>
<line x1="248.50" y1="361.00" x2="248.50" y2="395.50" stroke="#000" stroke-width="1.25"/>
<path d="M242.00,388.50 L248.50,395.50 L255.00,388.50" fill="none" stroke="#000" stroke-width="1.2"/>
<text x="78.00" y="408.20" font-size="7.8" text-anchor="middle" fill="#111">12922 genes</text>
<line x1="106.00" y1="406.20" x2="123.70" y2="406.20" stroke="#000" stroke-width="1.1"/>
<path d="M116.70,400.70 L123.70,406.20 L116.70,411.70" fill="none" stroke="#000" stroke-width="1.1"/>
<rect x="128.8" y="398.2" width="63.2" height="18" fill="#fff" stroke="#000" stroke-width="1.5"/>
<text x="160.30" y="405.20" font-size="6.85" text-anchor="middle" fill="#111">Differential between</text>
<text x="160.30" y="413.20" font-size="6.85" text-anchor="middle" fill="#111">ΔLTreg vs ΔTreg?</text>
<line x1="195.00" y1="403.20" x2="212.30" y2="403.20" stroke="#000" stroke-width="1.1"/>
<path d="M205.30,397.70 L212.30,403.20 L205.30,408.70" fill="none" stroke="#000" stroke-width="1.1"/>
<text x="202.30" y="414.60" font-size="7.7" text-anchor="middle" fill="#111">yes</text>
<rect x="215.8" y="398.2" width="63.2" height="18" fill="#fff" stroke="#000" stroke-width="1.5"/>
<text x="247.40" y="405.20" font-size="6.85" text-anchor="middle" fill="#111">Differential between</text>
<text x="247.40" y="413.20" font-size="6.85" text-anchor="middle" fill="#111">control vs ΔTreg?</text>
<line x1="247.50" y1="420.40" x2="247.50" y2="437.20" stroke="#000" stroke-width="1.25"/>
<path d="M241.00,430.20 L247.50,437.20 L254.00,430.20" fill="none" stroke="#000" stroke-width="1.2"/>
<text x="258.20" y="428.20" font-size="7.7" text-anchor="middle" fill="#111">yes</text>
<text x="247.50" y="449.50" font-size="7.7" text-anchor="middle" fill="#111">195 genes</text>
<defs><filter id="blur3" x="-20%" y="-20%" width="140%" height="140%"><feGaussianBlur stdDeviation="3"/></filter><filter id="blur1" x="-30%" y="-30%" width="160%" height="160%"><feGaussianBlur stdDeviation="1.6"/></filter></defs>
<defs><clipPath id="clip1"><rect x="23.20" y="480.5" width="111.60" height="111.50"/></clipPath><filter id="st1" x="-56.8" y="400.5" width="271.6" height="271.5" filterUnits="userSpaceOnUse" color-interpolation-filters="sRGB"><feGaussianBlur in="SourceGraphic" stdDeviation="3" result="m"/><feTurbulence type="fractalNoise" baseFrequency="0.05 0.22" numOctaves="2" seed="4" result="n"/><feColorMatrix in="n" type="matrix" values="0 0 0 0 0.08  0 0 0 0 0.06  0 0 0 0 0.92  5 0 0 0 -2.0" result="c"/><feComposite in="c" in2="m" operator="arithmetic" k1="1" k2="0" k3="0" k4="0"/></filter><filter id="cl1" x="-56.8" y="400.5" width="271.6" height="271.5" filterUnits="userSpaceOnUse" color-interpolation-filters="sRGB"><feGaussianBlur in="SourceGraphic" stdDeviation="3" result="m"/><feTurbulence type="fractalNoise" baseFrequency="0.26 0.4" numOctaves="1" seed="5" result="n"/><feColorMatrix in="n" type="matrix" values="0 0 0 0 0.2  0 0 0 0 0.2  0 0 0 0 1  12 0 0 0 -6.0" result="c"/><feGaussianBlur in="c" stdDeviation="0.3" result="cb"/><feComposite in="cb" in2="m" operator="arithmetic" k1="1" k2="0" k3="0" k4="0"/></filter><filter id="pk1" x="-56.8" y="400.5" width="271.6" height="271.5" filterUnits="userSpaceOnUse" color-interpolation-filters="sRGB"><feGaussianBlur in="SourceGraphic" stdDeviation="1.6" result="m"/><feTurbulence type="fractalNoise" baseFrequency="0.45" numOctaves="1" seed="6" result="n"/><feColorMatrix in="n" type="matrix" values="0 0 0 0 1  0 0 0 0 0.1  0 0 0 0 0.6  9 0 0 0 -3.9" result="c"/><feComposite in="c" in2="m" operator="arithmetic" k1="1" k2="0" k3="0" k4="0"/></filter></defs>
<rect x="23.20" y="467.40" width="111.60" height="13.40" fill="#000"/>
<text x="79.00" y="478.30" font-size="11.4" text-anchor="middle" fill="#fff">Control</text>
<g clip-path="url(#clip1)">
<rect x="23.20" y="480.50" width="111.60" height="111.50" fill="#04031a"/>
<g transform="rotate(31 79.0 536.2)"><g filter="url(#st1)"><g transform="rotate(-31 79.0 536.2)"><polygon points="23.2,480.5 136.2,480.5 136.2,593.5 23.2,593.5" fill="#fff" opacity="0.5"/><polygon points="25.5,505.8 27.9,489.9 51.2,502.5 75.2,516.5 104.2,534.9 117.2,543.1 125.6,547.7 126.6,551.5 125.6,556.7 121.4,559.5 117.2,561.8 107.8,559.5 99.4,554.8 91.4,548.7 79.2,540.3 66.4,533.5 53.7,525.5 41.5,517.1 29.8,508.6 25.5,505.8" fill="#fff" opacity="0.35"/><polygon points="24.6,526.9 53.2,540.5 77.2,556.5 80.2,568.5 73.2,575.5 53.2,568.5 28.8,545.9" fill="#fff" opacity="0.4"/><ellipse cx="105.2" cy="565.5" rx="25" ry="12" fill="#fff" opacity="0.5" transform="rotate(28 105.2 565.5)"/><polygon points="23.2,480.5 103.2,480.5 135.2,492.5 135.2,514.5 83.2,492.5 23.2,486.5" fill="#fff" opacity="0.3"/></g></g></g>
<g transform="rotate(31 79.0 536.2)"><g filter="url(#cl1)"><g transform="rotate(-31 79.0 536.2)"><polygon points="23.2,480.5 136.2,480.5 136.2,593.5 23.2,593.5" fill="#fff" opacity="0.5"/><polygon points="25.5,505.8 27.9,489.9 51.2,502.5 75.2,516.5 104.2,534.9 117.2,543.1 125.6,547.7 126.6,551.5 125.6,556.7 121.4,559.5 117.2,561.8 107.8,559.5 99.4,554.8 91.4,548.7 79.2,540.3 66.4,533.5 53.7,525.5 41.5,517.1 29.8,508.6 25.5,505.8" fill="#fff" opacity="0.35"/><polygon points="24.6,526.9 53.2,540.5 77.2,556.5 80.2,568.5 73.2,575.5 53.2,568.5 28.8,545.9" fill="#fff" opacity="0.4"/><ellipse cx="105.2" cy="565.5" rx="25" ry="12" fill="#fff" opacity="0.5" transform="rotate(28 105.2 565.5)"/><polygon points="23.2,480.5 103.2,480.5 135.2,492.5 135.2,514.5 83.2,492.5 23.2,486.5" fill="#fff" opacity="0.3"/></g></g></g>
<g filter="url(#blur3)">
<polygon points="37.2,483.5 83.2,493.5 115.2,512.5 109.2,517.5 78.2,502.5 37.2,491.5" fill="#03021a" opacity="0.85"/>
<polygon points="107.2,497.5 135.2,502.5 135.2,510.5 111.2,507.5" fill="#03021a" opacity="0.7"/>
<polygon points="23.2,552.5 48.2,566.5 73.2,577.5 85.2,580.5 93.2,592.5 23.2,592.5" fill="#03021a" opacity="0.9"/>
<polygon points="23.2,510.5 41.2,520.5 43.2,524.5 23.2,520.5" fill="#03021a" opacity="0.6"/>
<polygon points="81.2,572.5 135.2,580.5 135.2,592.5 93.2,592.5" fill="#03021a" opacity="0.5"/>
</g>
<ellipse cx="108.2" cy="484.5" rx="8" ry="4" fill="#ff2a7a" opacity="0.7" filter="url(#blur1)" transform="rotate(10 108.2 484.5)"/>
<ellipse cx="126.2" cy="487.5" rx="7" ry="4.5" fill="#ff2a7a" opacity="0.7" filter="url(#blur1)" transform="rotate(15 126.2 487.5)"/>
<ellipse cx="53.2" cy="557.5" rx="26" ry="8" fill="#9020c0" opacity="0.35" filter="url(#blur1)" transform="rotate(33 53.2 557.5)"/>
<ellipse cx="105.2" cy="565.5" rx="22" ry="10" fill="#9020c0" opacity="0.4" filter="url(#blur1)" transform="rotate(28 105.2 565.5)"/>
<g filter="url(#pk1)"><ellipse cx="108.2" cy="484.5" rx="9" ry="4.5" fill="#fff" opacity="0.95" transform="rotate(10 108.2 484.5)"/><ellipse cx="126.2" cy="487.5" rx="8" ry="5" fill="#fff" opacity="0.95" transform="rotate(15 126.2 487.5)"/><ellipse cx="53.2" cy="557.5" rx="29" ry="10" fill="#fff" opacity="0.45" transform="rotate(33 53.2 557.5)"/><ellipse cx="105.2" cy="565.5" rx="24" ry="11" fill="#fff" opacity="0.5" transform="rotate(28 105.2 565.5)"/></g>
<g opacity="0.8"><circle cx="52.1" cy="556.9" r="0.68" fill="#e0147a"/><circle cx="97.5" cy="577.4" r="0.50" fill="#e0147a"/><circle cx="82.5" cy="504.4" r="0.46" fill="#b01ab0"/><circle cx="37.3" cy="556.8" r="0.80" fill="#d0208c"/><circle cx="116.3" cy="490.0" r="0.74" fill="#b01ab0"/><circle cx="106.3" cy="586.3" r="0.57" fill="#b01ab0"/><circle cx="49.3" cy="580.7" r="0.68" fill="#ff2a6a"/><circle cx="122.4" cy="551.7" r="0.57" fill="#d0208c"/><circle cx="89.6" cy="551.2" r="0.69" fill="#b01ab0"/><circle cx="85.1" cy="563.9" r="0.60" fill="#e0147a"/><circle cx="104.6" cy="540.3" r="0.52" fill="#b01ab0"/><circle cx="81.5" cy="508.7" r="0.54" fill="#ff2a6a"/><circle cx="54.5" cy="579.7" r="0.64" fill="#ff2a6a"/><circle cx="86.3" cy="579.4" r="0.50" fill="#b01ab0"/><circle cx="71.2" cy="550.6" r="0.59" fill="#ff2a6a"/><circle cx="103.4" cy="584.5" r="0.53" fill="#d0208c"/><circle cx="78.8" cy="558.3" r="0.67" fill="#ff2a6a"/><circle cx="41.0" cy="526.6" r="0.76" fill="#b01ab0"/><circle cx="112.8" cy="503.1" r="0.63" fill="#b01ab0"/><circle cx="96.5" cy="581.0" r="0.70" fill="#e0147a"/><circle cx="46.8" cy="549.3" r="0.58" fill="#d0208c"/><circle cx="104.4" cy="518.6" r="0.52" fill="#b01ab0"/><circle cx="111.1" cy="542.4" r="0.51" fill="#e0147a"/><circle cx="71.1" cy="546.9" r="0.79" fill="#d0208c"/><circle cx="115.3" cy="552.4" r="0.49" fill="#d0208c"/><circle cx="57.9" cy="526.0" r="0.65" fill="#b01ab0"/><circle cx="101.2" cy="585.1" r="0.75" fill="#b01ab0"/><circle cx="27.2" cy="516.1" r="0.62" fill="#e0147a"/><circle cx="131.4" cy="538.1" r="0.53" fill="#ff2a6a"/><circle cx="46.3" cy="569.6" r="0.63" fill="#ff2a6a"/><circle cx="124.8" cy="562.8" r="0.60" fill="#b01ab0"/><circle cx="115.2" cy="504.5" r="0.66" fill="#ff2a6a"/><circle cx="62.9" cy="507.7" r="0.60" fill="#b01ab0"/><circle cx="94.7" cy="527.9" r="0.59" fill="#b01ab0"/><circle cx="32.9" cy="565.0" r="0.68" fill="#d0208c"/><circle cx="57.4" cy="530.6" r="0.57" fill="#ff2a6a"/><circle cx="55.5" cy="529.0" r="0.50" fill="#e0147a"/><circle cx="29.1" cy="521.6" r="0.53" fill="#e0147a"/><circle cx="57.1" cy="523.8" r="0.57" fill="#d0208c"/><circle cx="34.3" cy="535.2" r="0.47" fill="#ff2a6a"/><circle cx="82.9" cy="494.9" r="0.56" fill="#d0208c"/><circle cx="122.8" cy="541.3" r="0.77" fill="#e0147a"/><circle cx="123.0" cy="582.2" r="0.48" fill="#e0147a"/><circle cx="127.2" cy="488.3" r="0.73" fill="#b01ab0"/><circle cx="47.1" cy="560.6" r="0.63" fill="#e0147a"/><circle cx="125.9" cy="529.6" r="0.67" fill="#ff2a6a"/><circle cx="116.9" cy="580.6" r="0.66" fill="#d0208c"/><circle cx="128.4" cy="565.2" r="0.64" fill="#b01ab0"/><circle cx="56.6" cy="587.7" r="0.54" fill="#b01ab0"/><circle cx="64.8" cy="584.4" r="0.70" fill="#e0147a"/><circle cx="35.2" cy="560.3" r="0.80" fill="#d0208c"/><circle cx="113.5" cy="527.8" r="0.77" fill="#b01ab0"/><circle cx="27.8" cy="491.1" r="0.80" fill="#ff2a6a"/><circle cx="75.8" cy="510.4" r="0.61" fill="#e0147a"/><circle cx="23.6" cy="483.8" r="0.55" fill="#b01ab0"/><circle cx="48.5" cy="591.1" r="0.60" fill="#b01ab0"/><circle cx="134.0" cy="565.4" r="0.59" fill="#ff2a6a"/><circle cx="40.5" cy="545.0" r="0.52" fill="#ff2a6a"/><circle cx="65.1" cy="533.6" r="0.46" fill="#e0147a"/><circle cx="124.3" cy="534.2" r="0.49" fill="#e0147a"/><circle cx="23.8" cy="495.3" r="0.76" fill="#d0208c"/><circle cx="78.7" cy="538.6" r="0.53" fill="#d0208c"/><circle cx="106.4" cy="552.9" r="0.46" fill="#ff2a6a"/><circle cx="82.5" cy="567.1" r="0.55" fill="#e0147a"/><circle cx="92.3" cy="553.0" r="0.77" fill="#ff2a6a"/><circle cx="51.9" cy="534.7" r="0.54" fill="#d0208c"/><circle cx="82.4" cy="481.6" r="0.76" fill="#ff2a6a"/><circle cx="124.4" cy="553.3" r="0.63" fill="#d0208c"/><circle cx="134.0" cy="506.7" r="0.49" fill="#d0208c"/><circle cx="125.2" cy="584.4" r="0.74" fill="#b01ab0"/></g>
<path d="M27.9,489.9 L51.2,502.5 L75.2,516.5 L104.2,534.9 L117.2,543.1 L125.6,547.7 L126.6,551.5 L125.6,556.7 L121.4,559.5 L117.2,561.8 L107.8,559.5 L99.4,554.8 L91.4,548.7 L79.2,540.3 L66.4,533.5 L53.7,525.5 L41.5,517.1 L29.8,508.6 L25.5,505.8" fill="none" stroke="#f4f4f4" stroke-width="1.4" stroke-linecap="round" stroke-dasharray="0.01 4.6"/>
<path d="M24.6,526.9 L35.2,532.5 L48.2,539.5 L63.2,547.5 L75.2,556.2 L79.2,562.5" fill="none" stroke="#f4f4f4" stroke-width="1.4" stroke-linecap="round" stroke-dasharray="0.01 4.6"/>
<path d="M28.8,545.9 L40.6,555.3 L51.3,564.6 L59.3,570.7 L69.2,573.5 L77.2,572.1" fill="none" stroke="#f4f4f4" stroke-width="1.4" stroke-linecap="round" stroke-dasharray="0.01 4.6"/>
<text x="88.70" y="589.30" font-size="11.4" text-anchor="end" fill="#2020e8">DAPI</text>
<text x="97.50" y="589.30" font-size="11.4" text-anchor="start" fill="#e8141e">Fabp7</text>
<line x1="25.00" y1="590.50" x2="41.20" y2="590.50" stroke="#fff" stroke-width="1.3"/>
</g>
<defs><clipPath id="clip2"><rect x="137.00" y="480.5" width="111.70" height="111.50"/></clipPath><filter id="st2" x="57" y="400.5" width="271.7" height="271.5" filterUnits="userSpaceOnUse" color-interpolation-filters="sRGB"><feGaussianBlur in="SourceGraphic" stdDeviation="3" result="m"/><feTurbulence type="fractalNoise" baseFrequency="0.05 0.22" numOctaves="2" seed="7" result="n"/><feColorMatrix in="n" type="matrix" values="0 0 0 0 0.08  0 0 0 0 0.06  0 0 0 0 0.92  5 0 0 0 -2.2" result="c"/><feComposite in="c" in2="m" operator="arithmetic" k1="1" k2="0" k3="0" k4="0"/></filter><filter id="cl2" x="57" y="400.5" width="271.7" height="271.5" filterUnits="userSpaceOnUse" color-interpolation-filters="sRGB"><feGaussianBlur in="SourceGraphic" stdDeviation="3" result="m"/><feTurbulence type="fractalNoise" baseFrequency="0.26 0.4" numOctaves="1" seed="8" result="n"/><feColorMatrix in="n" type="matrix" values="0 0 0 0 0.2  0 0 0 0 0.2  0 0 0 0 1  12 0 0 0 -5.3" result="c"/><feGaussianBlur in="c" stdDeviation="0.3" result="cb"/><feComposite in="cb" in2="m" operator="arithmetic" k1="1" k2="0" k3="0" k4="0"/></filter><filter id="pk2" x="57" y="400.5" width="271.7" height="271.5" filterUnits="userSpaceOnUse" color-interpolation-filters="sRGB"><feGaussianBlur in="SourceGraphic" stdDeviation="1.6" result="m"/><feTurbulence type="fractalNoise" baseFrequency="0.45" numOctaves="1" seed="9" result="n"/><feColorMatrix in="n" type="matrix" values="0 0 0 0 1  0 0 0 0 0.1  0 0 0 0 0.6  9 0 0 0 -3.9" result="c"/><feComposite in="c" in2="m" operator="arithmetic" k1="1" k2="0" k3="0" k4="0"/></filter></defs>
<rect x="137.00" y="467.40" width="111.70" height="13.40" fill="#000"/>
<text x="192.85" y="478.30" font-size="11.4" text-anchor="middle" fill="#fff">ΔETreg</text>
<g clip-path="url(#clip2)">
<rect x="137.00" y="480.50" width="111.70" height="111.50" fill="#04031a"/>
<g transform="rotate(35 192.8 536.2)"><g filter="url(#st2)"><g transform="rotate(-35 192.8 536.2)"><polygon points="137.0,480.5 250.0,480.5 250.0,593.5 137.0,593.5" fill="#fff" opacity="0.3"/><polygon points="129.2,514.9 227.2,588.9 242.8,568.1 144.8,494.1" fill="#fff" opacity="0.75"/><polygon points="137.0,488.5 155.0,485.5 177.0,492.5 189.0,498.5 182.0,505.5 137.0,496.5" fill="#fff" opacity="0.7"/><polygon points="209.0,497.5 232.0,487.5 249.0,487.5 249.0,520.5 237.0,518.5" fill="#fff" opacity="0.6"/><polygon points="183.2,520.4 233.2,552.4 240.8,540.6 190.8,508.6" fill="#fff" opacity="0.6"/><polygon points="137.3,541.0 191.3,578.0 194.7,573.0 140.7,536.0" fill="#fff" opacity="0.85"/><polygon points="135.1,574.0 175.1,596.0 178.9,589.0 138.9,567.0" fill="#fff" opacity="0.85"/><polygon points="184.7,578.9 219.7,596.9 224.3,588.1 189.3,570.1" fill="#fff" opacity="0.8"/></g></g></g>
<g transform="rotate(35 192.8 536.2)"><g filter="url(#cl2)"><g transform="rotate(-35 192.8 536.2)"><polygon points="137.0,480.5 250.0,480.5 250.0,593.5 137.0,593.5" fill="#fff" opacity="0.3"/><polygon points="129.2,514.9 227.2,588.9 242.8,568.1 144.8,494.1" fill="#fff" opacity="0.75"/><polygon points="137.0,488.5 155.0,485.5 177.0,492.5 189.0,498.5 182.0,505.5 137.0,496.5" fill="#fff" opacity="0.7"/><polygon points="209.0,497.5 232.0,487.5 249.0,487.5 249.0,520.5 237.0,518.5" fill="#fff" opacity="0.6"/><polygon points="183.2,520.4 233.2,552.4 240.8,540.6 190.8,508.6" fill="#fff" opacity="0.6"/><polygon points="137.3,541.0 191.3,578.0 194.7,573.0 140.7,536.0" fill="#fff" opacity="0.85"/><polygon points="135.1,574.0 175.1,596.0 178.9,589.0 138.9,567.0" fill="#fff" opacity="0.85"/><polygon points="184.7,578.9 219.7,596.9 224.3,588.1 189.3,570.1" fill="#fff" opacity="0.8"/></g></g></g>
<g filter="url(#blur3)">
<polygon points="137.0,480.5 249.0,480.5 249.0,486.5 197.0,488.5 137.0,484.5" fill="#03021a" opacity="0.85"/>
<polygon points="185.0,494.7 237.0,534.7 245.0,524.3 193.0,484.3" fill="#03021a" opacity="0.85"/>
<polygon points="223.0,548.5 249.0,546.5 249.0,592.5 215.0,592.5 229.0,580.5" fill="#03021a" opacity="0.8"/>
<polygon points="134.9,564.5 182.9,590.5 187.1,582.5 139.1,556.5" fill="#03021a" opacity="0.75"/>
<polygon points="153.7,509.2 179.7,521.2 182.3,515.8 156.3,503.8" fill="#03021a" opacity="0.5"/>
</g>
<ellipse cx="242.0" cy="531.5" rx="5" ry="9" fill="#ff1a66" opacity="0.75" filter="url(#blur1)" transform="rotate(15 242.0 531.5)"/>
<ellipse cx="238.0" cy="540.5" rx="7" ry="3.5" fill="#ff1a66" opacity="0.7" filter="url(#blur1)" transform="rotate(12 238.0 540.5)"/>
<ellipse cx="168.0" cy="537.5" rx="4" ry="1.5" fill="#ff1a66" opacity="0.5" filter="url(#blur1)" transform="rotate(35 168.0 537.5)"/>
<g filter="url(#pk2)"><ellipse cx="242.0" cy="531.5" rx="5.5" ry="10" fill="#fff" opacity="0.95" transform="rotate(15 242.0 531.5)"/><ellipse cx="238.0" cy="540.5" rx="8" ry="4" fill="#fff" opacity="0.9" transform="rotate(12 238.0 540.5)"/><ellipse cx="168.0" cy="537.5" rx="5" ry="2" fill="#fff" opacity="0.6" transform="rotate(35 168.0 537.5)"/></g>
<g opacity="0.8"><circle cx="220.5" cy="503.1" r="0.60" fill="#e0147a"/><circle cx="197.8" cy="494.8" r="0.46" fill="#ff2a6a"/><circle cx="213.3" cy="536.6" r="0.78" fill="#ff2a6a"/><circle cx="247.2" cy="526.1" r="0.73" fill="#e0147a"/><circle cx="245.5" cy="483.7" r="0.50" fill="#e0147a"/><circle cx="161.2" cy="534.4" r="0.58" fill="#ff2a6a"/><circle cx="229.5" cy="483.9" r="0.75" fill="#b01ab0"/><circle cx="196.9" cy="537.3" r="0.61" fill="#d0208c"/><circle cx="210.4" cy="515.5" r="0.75" fill="#b01ab0"/><circle cx="184.3" cy="575.0" r="0.47" fill="#e0147a"/><circle cx="243.2" cy="502.5" r="0.75" fill="#ff2a6a"/><circle cx="204.8" cy="497.9" r="0.48" fill="#d0208c"/><circle cx="197.9" cy="560.1" r="0.47" fill="#d0208c"/><circle cx="161.4" cy="547.0" r="0.75" fill="#d0208c"/><circle cx="173.5" cy="525.9" r="0.78" fill="#d0208c"/><circle cx="215.9" cy="545.3" r="0.57" fill="#d0208c"/><circle cx="212.4" cy="569.0" r="0.69" fill="#e0147a"/><circle cx="167.9" cy="578.7" r="0.57" fill="#ff2a6a"/><circle cx="189.5" cy="524.0" r="0.79" fill="#d0208c"/><circle cx="154.0" cy="481.4" r="0.79" fill="#d0208c"/><circle cx="206.3" cy="571.8" r="0.46" fill="#ff2a6a"/><circle cx="157.4" cy="548.6" r="0.73" fill="#d0208c"/><circle cx="142.4" cy="588.9" r="0.47" fill="#e0147a"/><circle cx="155.9" cy="491.5" r="0.76" fill="#d0208c"/><circle cx="231.3" cy="582.9" r="0.73" fill="#d0208c"/><circle cx="167.9" cy="571.9" r="0.68" fill="#b01ab0"/><circle cx="198.1" cy="524.6" r="0.49" fill="#d0208c"/><circle cx="160.1" cy="507.0" r="0.50" fill="#e0147a"/><circle cx="203.5" cy="590.1" r="0.67" fill="#ff2a6a"/><circle cx="172.3" cy="489.6" r="0.71" fill="#d0208c"/><circle cx="240.7" cy="485.4" r="0.59" fill="#e0147a"/><circle cx="173.1" cy="502.8" r="0.60" fill="#b01ab0"/><circle cx="161.4" cy="536.2" r="0.63" fill="#d0208c"/><circle cx="245.9" cy="491.7" r="0.52" fill="#d0208c"/><circle cx="221.6" cy="496.4" r="0.46" fill="#e0147a"/><circle cx="206.5" cy="556.4" r="0.73" fill="#e0147a"/><circle cx="242.0" cy="590.4" r="0.59" fill="#d0208c"/><circle cx="197.0" cy="527.0" r="0.57" fill="#e0147a"/><circle cx="162.8" cy="541.6" r="0.54" fill="#b01ab0"/><circle cx="158.8" cy="538.9" r="0.56" fill="#ff2a6a"/><circle cx="165.6" cy="567.4" r="0.77" fill="#b01ab0"/><circle cx="169.6" cy="571.8" r="0.73" fill="#ff2a6a"/><circle cx="230.1" cy="525.6" r="0.72" fill="#d0208c"/><circle cx="248.5" cy="569.5" r="0.66" fill="#e0147a"/><circle cx="163.0" cy="505.0" r="0.63" fill="#b01ab0"/><circle cx="183.8" cy="548.1" r="0.72" fill="#b01ab0"/><circle cx="189.3" cy="491.1" r="0.72" fill="#d0208c"/><circle cx="194.6" cy="573.9" r="0.71" fill="#d0208c"/><circle cx="213.5" cy="547.0" r="0.50" fill="#d0208c"/><circle cx="213.3" cy="586.9" r="0.72" fill="#d0208c"/></g>
<path d="M140.8,499.3 L157.8,509.5 L174.0,521.3 L189.5,533.0 L196.8,538.4 L205.7,544.5 L214.1,550.1 L221.6,555.7 L228.6,562.8 L235.2,569.8 L236.2,575.0 L234.3,582.0" fill="none" stroke="#f4f4f4" stroke-width="1.4" stroke-linecap="round" stroke-dasharray="0.01 4.6"/>
<path d="M140.3,511.5 L146.8,519.0 L153.4,526.5 L157.2,529.7 L175.0,542.5 L193.0,554.8 L201.4,560.9 L209.4,566.0 L217.4,571.7 L225.4,576.8 L234.3,582.0" fill="none" stroke="#f4f4f4" stroke-width="1.4" stroke-linecap="round" stroke-dasharray="0.01 4.6"/>
<path d="M174.5,503.0 L192.0,515.5 L195.8,517.1 L204.3,523.2 L212.2,528.8 L220.7,534.5 L228.6,539.3 L241.8,544.9" fill="none" stroke="#f4f4f4" stroke-width="1.4" stroke-linecap="round" stroke-dasharray="0.01 4.6"/>
<path d="M215.5,502.5 L223.5,508.5 L231.5,514.1 L239.4,519.9 L242.5,524.1 L245.5,527.9 L246.5,532.1 L247.0,536.5" fill="none" stroke="#f4f4f4" stroke-width="1.4" stroke-linecap="round" stroke-dasharray="0.01 4.6"/>
<line x1="231.00" y1="590.50" x2="247.00" y2="590.50" stroke="#fff" stroke-width="1.3"/>
</g>
<defs><clipPath id="clip3"><rect x="358.70" y="480.5" width="111.60" height="111.50"/></clipPath><filter id="st3" x="278.7" y="400.5" width="271.6" height="271.5" filterUnits="userSpaceOnUse" color-interpolation-filters="sRGB"><feGaussianBlur in="SourceGraphic" stdDeviation="3" result="m"/><feTurbulence type="fractalNoise" baseFrequency="0.05 0.22" numOctaves="2" seed="10" result="n"/><feColorMatrix in="n" type="matrix" values="0 0 0 0 0.08  0 0 0 0 0.06  0 0 0 0 0.92  5 0 0 0 -2.3" result="c"/><feComposite in="c" in2="m" operator="arithmetic" k1="1" k2="0" k3="0" k4="0"/></filter><filter id="cl3" x="278.7" y="400.5" width="271.6" height="271.5" filterUnits="userSpaceOnUse" color-interpolation-filters="sRGB"><feGaussianBlur in="SourceGraphic" stdDeviation="3" result="m"/><feTurbulence type="fractalNoise" baseFrequency="0.26 0.4" numOctaves="1" seed="11" result="n"/><feColorMatrix in="n" type="matrix" values="0 0 0 0 0.2  0 0 0 0 0.2  0 0 0 0 1  12 0 0 0 -6.8" result="c"/><feGaussianBlur in="c" stdDeviation="0.3" result="cb"/><feComposite in="cb" in2="m" operator="arithmetic" k1="1" k2="0" k3="0" k4="0"/></filter><filter id="pk3" x="278.7" y="400.5" width="271.6" height="271.5" filterUnits="userSpaceOnUse" color-interpolation-filters="sRGB"><feGaussianBlur in="SourceGraphic" stdDeviation="1.6" result="m"/><feTurbulence type="fractalNoise" baseFrequency="0.45" numOctaves="1" seed="12" result="n"/><feColorMatrix in="n" type="matrix" values="0 0 0 0 1  0 0 0 0 0.1  0 0 0 0 0.35  9 0 0 0 -3.2" result="c"/><feComposite in="c" in2="m" operator="arithmetic" k1="1" k2="0" k3="0" k4="0"/></filter></defs>
<rect x="358.70" y="467.40" width="111.60" height="13.40" fill="#000"/>
<text x="414.50" y="478.30" font-size="11.4" text-anchor="middle" fill="#fff">Control</text>
<g clip-path="url(#clip3)">
<rect x="358.70" y="480.50" width="111.60" height="111.50" fill="#04031a"/>
<g transform="rotate(22 414.5 536.2)"><g filter="url(#st3)"><g transform="rotate(-22 414.5 536.2)"><polygon points="358.7,493.5 470.7,493.5 470.7,592.5 358.7,592.5" fill="#fff" opacity="0.42"/><polygon points="358.7,480.5 470.7,480.5 470.7,493.5 358.7,493.5" fill="#fff" opacity="0.25"/><polygon points="356.5,518.2 468.5,550.2 472.9,534.8 360.9,502.8" fill="#fff" opacity="0.4"/><polygon points="358.0,575.5 470.0,587.5 471.4,573.5 359.4,561.5" fill="#fff" opacity="0.35"/></g></g></g>
<g transform="rotate(22 414.5 536.2)"><g filter="url(#cl3)"><g transform="rotate(-22 414.5 536.2)"><polygon points="358.7,493.5 470.7,493.5 470.7,592.5 358.7,592.5" fill="#fff" opacity="0.42"/><polygon points="358.7,480.5 470.7,480.5 470.7,493.5 358.7,493.5" fill="#fff" opacity="0.25"/><polygon points="356.5,518.2 468.5,550.2 472.9,534.8 360.9,502.8" fill="#fff" opacity="0.4"/><polygon points="358.0,575.5 470.0,587.5 471.4,573.5 359.4,561.5" fill="#fff" opacity="0.35"/></g></g></g>
<g filter="url(#blur3)">
<polygon points="358.7,480.5 470.7,480.5 470.7,492.5 358.7,492.5" fill="#03021a" opacity="0.85"/>
<polygon points="378.2,503.5 470.2,517.5 471.2,511.5 379.2,497.5" fill="#03021a" opacity="0.6"/>
<polygon points="357.5,548.4 397.7,555.4 399.7,545.6 359.9,536.6" fill="#03021a" opacity="0.75"/>
<polygon points="387.8,527.8 469.8,558.8 471.6,554.2 389.6,523.2" fill="#03021a" opacity="0.6"/>
<polygon points="358.2,567.0 418.2,579.0 419.2,574.0 359.2,562.0" fill="#03021a" opacity="0.7"/>
<polygon points="442.9,542.2 468.9,550.2 472.5,538.8 446.5,530.8" fill="#03021a" opacity="0.85"/>
<polygon points="418.6,591.5 470.6,593.5 470.8,587.5 418.8,585.5" fill="#03021a" opacity="0.8"/>
<polygon points="358.4,591.5 398.4,595.5 399.0,589.5 359.0,585.5" fill="#03021a" opacity="0.6"/>
</g>
<ellipse cx="377.7" cy="512.5" rx="11" ry="4.5" fill="#ff1a50" opacity="0.95" filter="url(#blur1)" transform="rotate(45 377.7 512.5)"/>
<ellipse cx="367.7" cy="522.5" rx="11" ry="7" fill="#ff1a50" opacity="0.95" filter="url(#blur1)" transform="rotate(35 367.7 522.5)"/>
<ellipse cx="450.7" cy="519.0" rx="12" ry="4.5" fill="#ff1a50" opacity="0.95" filter="url(#blur1)" transform="rotate(22 450.7 519.0)"/>
<ellipse cx="441.7" cy="513.0" rx="6" ry="2.5" fill="#000010" opacity="0.9" filter="url(#blur1)" transform="rotate(22 441.7 513.0)"/>
<g filter="url(#pk3)"><ellipse cx="377.7" cy="512.5" rx="12" ry="5" fill="#fff" opacity="0.95" transform="rotate(45 377.7 512.5)"/><ellipse cx="367.7" cy="522.5" rx="12" ry="8" fill="#fff" opacity="0.95" transform="rotate(35 367.7 522.5)"/><ellipse cx="448.7" cy="518.0" rx="15" ry="6" fill="#fff" opacity="0.95" transform="rotate(22 448.7 518.0)"/><ellipse cx="420.7" cy="584.5" rx="6" ry="5" fill="#fff" opacity="0.3" transform="rotate(0 420.7 584.5)"/></g>
<g opacity="0.8"><circle cx="382.1" cy="523.5" r="0.53" fill="#e0147a"/><circle cx="440.0" cy="481.1" r="0.69" fill="#b01ab0"/><circle cx="438.0" cy="587.4" r="0.55" fill="#d0208c"/><circle cx="457.2" cy="488.7" r="0.49" fill="#d0208c"/><circle cx="397.5" cy="568.6" r="0.75" fill="#d0208c"/><circle cx="416.0" cy="513.9" r="0.61" fill="#d0208c"/><circle cx="387.4" cy="516.3" r="0.70" fill="#d0208c"/><circle cx="455.2" cy="553.2" r="0.67" fill="#ff2a6a"/><circle cx="429.4" cy="569.8" r="0.59" fill="#b01ab0"/><circle cx="397.9" cy="495.6" r="0.47" fill="#ff2a6a"/><circle cx="391.9" cy="556.2" r="0.53" fill="#b01ab0"/><circle cx="435.9" cy="558.4" r="0.59" fill="#d0208c"/><circle cx="464.0" cy="577.5" r="0.60" fill="#d0208c"/><circle cx="360.5" cy="561.8" r="0.45" fill="#ff2a6a"/><circle cx="426.3" cy="546.3" r="0.69" fill="#ff2a6a"/><circle cx="467.7" cy="563.4" r="0.49" fill="#e0147a"/><circle cx="407.9" cy="503.1" r="0.75" fill="#e0147a"/><circle cx="468.6" cy="507.4" r="0.67" fill="#d0208c"/><circle cx="413.3" cy="579.3" r="0.75" fill="#b01ab0"/><circle cx="456.0" cy="573.8" r="0.75" fill="#e0147a"/><circle cx="423.8" cy="500.5" r="0.58" fill="#e0147a"/><circle cx="390.6" cy="484.9" r="0.65" fill="#e0147a"/><circle cx="456.3" cy="485.9" r="0.68" fill="#d0208c"/><circle cx="371.6" cy="492.4" r="0.80" fill="#ff2a6a"/><circle cx="420.6" cy="572.8" r="0.68" fill="#b01ab0"/><circle cx="372.7" cy="501.1" r="0.74" fill="#d0208c"/><circle cx="410.3" cy="512.8" r="0.73" fill="#d0208c"/><circle cx="381.8" cy="497.2" r="0.49" fill="#ff2a6a"/><circle cx="452.1" cy="551.5" r="0.75" fill="#ff2a6a"/><circle cx="381.3" cy="518.3" r="0.58" fill="#ff2a6a"/><circle cx="463.7" cy="573.9" r="0.53" fill="#ff2a6a"/><circle cx="396.7" cy="547.6" r="0.55" fill="#d0208c"/><circle cx="382.9" cy="568.8" r="0.63" fill="#d0208c"/><circle cx="434.6" cy="520.0" r="0.58" fill="#d0208c"/><circle cx="384.0" cy="590.4" r="0.67" fill="#ff2a6a"/><circle cx="466.7" cy="538.4" r="0.79" fill="#d0208c"/><circle cx="448.1" cy="579.6" r="0.61" fill="#d0208c"/><circle cx="421.6" cy="580.2" r="0.50" fill="#d0208c"/><circle cx="394.5" cy="572.7" r="0.56" fill="#b01ab0"/><circle cx="449.7" cy="581.1" r="0.49" fill="#ff2a6a"/><circle cx="362.7" cy="489.0" r="0.52" fill="#b01ab0"/><circle cx="418.0" cy="506.1" r="0.54" fill="#e0147a"/><circle cx="358.8" cy="482.3" r="0.66" fill="#d0208c"/><circle cx="431.6" cy="562.5" r="0.58" fill="#e0147a"/><circle cx="376.7" cy="576.6" r="0.56" fill="#e0147a"/><circle cx="382.0" cy="522.3" r="0.79" fill="#d0208c"/><circle cx="413.8" cy="509.9" r="0.76" fill="#d0208c"/><circle cx="455.5" cy="533.1" r="0.46" fill="#ff2a6a"/><circle cx="467.4" cy="581.0" r="0.65" fill="#ff2a6a"/><circle cx="359.2" cy="587.1" r="0.63" fill="#b01ab0"/><circle cx="452.2" cy="544.0" r="0.78" fill="#b01ab0"/><circle cx="380.0" cy="591.1" r="0.54" fill="#b01ab0"/><circle cx="430.7" cy="541.0" r="0.77" fill="#d0208c"/><circle cx="377.7" cy="510.8" r="0.53" fill="#ff2a6a"/><circle cx="409.7" cy="490.8" r="0.48" fill="#ff2a6a"/><circle cx="367.7" cy="502.1" r="0.62" fill="#b01ab0"/><circle cx="464.8" cy="536.4" r="0.74" fill="#d0208c"/><circle cx="441.4" cy="528.6" r="0.76" fill="#d0208c"/><circle cx="449.0" cy="506.7" r="0.55" fill="#ff2a6a"/><circle cx="430.8" cy="555.0" r="0.62" fill="#b01ab0"/><circle cx="382.5" cy="488.5" r="0.76" fill="#d0208c"/><circle cx="418.3" cy="567.6" r="0.74" fill="#d0208c"/><circle cx="442.1" cy="543.3" r="0.66" fill="#b01ab0"/><circle cx="470.1" cy="495.2" r="0.53" fill="#b01ab0"/><circle cx="464.8" cy="583.1" r="0.70" fill="#ff2a6a"/><circle cx="375.4" cy="574.9" r="0.64" fill="#ff2a6a"/><circle cx="362.3" cy="576.2" r="0.55" fill="#ff2a6a"/><circle cx="359.3" cy="491.6" r="0.47" fill="#b01ab0"/><circle cx="433.9" cy="586.5" r="0.51" fill="#d0208c"/><circle cx="469.9" cy="547.4" r="0.62" fill="#b01ab0"/><circle cx="363.4" cy="565.2" r="0.68" fill="#d0208c"/><circle cx="414.9" cy="515.3" r="0.53" fill="#d0208c"/><circle cx="358.9" cy="578.0" r="0.67" fill="#b01ab0"/><circle cx="398.2" cy="572.9" r="0.72" fill="#b01ab0"/><circle cx="422.3" cy="489.9" r="0.74" fill="#ff2a6a"/><circle cx="459.4" cy="521.6" r="0.75" fill="#ff2a6a"/><circle cx="372.7" cy="549.1" r="0.73" fill="#d0208c"/><circle cx="387.0" cy="558.9" r="0.48" fill="#ff2a6a"/><circle cx="384.3" cy="570.6" r="0.64" fill="#d0208c"/><circle cx="440.9" cy="546.4" r="0.74" fill="#b01ab0"/><circle cx="369.8" cy="578.8" r="0.68" fill="#b01ab0"/><circle cx="456.8" cy="485.2" r="0.71" fill="#d0208c"/><circle cx="435.8" cy="566.8" r="0.60" fill="#e0147a"/><circle cx="383.1" cy="510.1" r="0.61" fill="#e0147a"/><circle cx="393.7" cy="525.1" r="0.55" fill="#d0208c"/><circle cx="460.7" cy="581.7" r="0.55" fill="#d0208c"/><circle cx="424.8" cy="493.6" r="0.61" fill="#d0208c"/><circle cx="364.9" cy="523.9" r="0.63" fill="#b01ab0"/><circle cx="405.9" cy="567.7" r="0.57" fill="#b01ab0"/><circle cx="390.0" cy="510.9" r="0.68" fill="#ff2a6a"/><circle cx="448.7" cy="587.6" r="0.56" fill="#e0147a"/><circle cx="386.4" cy="509.2" r="0.64" fill="#b01ab0"/><circle cx="392.8" cy="505.9" r="0.55" fill="#e0147a"/><circle cx="389.5" cy="571.7" r="0.48" fill="#d0208c"/><circle cx="438.6" cy="589.3" r="0.66" fill="#ff2a6a"/><circle cx="373.6" cy="542.4" r="0.67" fill="#ff2a6a"/><circle cx="417.6" cy="559.1" r="0.59" fill="#e0147a"/><circle cx="441.3" cy="553.2" r="0.50" fill="#d0208c"/><circle cx="415.3" cy="504.6" r="0.45" fill="#e0147a"/><circle cx="401.7" cy="566.5" r="0.75" fill="#b01ab0"/><circle cx="389.7" cy="538.8" r="0.72" fill="#e0147a"/><circle cx="366.5" cy="515.9" r="0.48" fill="#ff2a6a"/><circle cx="379.3" cy="492.3" r="0.70" fill="#ff2a6a"/><circle cx="420.4" cy="487.6" r="0.68" fill="#ff2a6a"/><circle cx="438.4" cy="561.4" r="0.79" fill="#b01ab0"/><circle cx="433.4" cy="480.7" r="0.48" fill="#e0147a"/><circle cx="385.4" cy="495.9" r="0.75" fill="#ff2a6a"/><circle cx="409.4" cy="510.3" r="0.60" fill="#b01ab0"/><circle cx="432.3" cy="491.8" r="0.64" fill="#ff2a6a"/><circle cx="392.9" cy="529.3" r="0.58" fill="#d0208c"/><circle cx="381.6" cy="518.9" r="0.71" fill="#ff2a6a"/><circle cx="379.3" cy="527.0" r="0.46" fill="#b01ab0"/><circle cx="362.6" cy="572.1" r="0.66" fill="#e0147a"/><circle cx="380.4" cy="553.1" r="0.58" fill="#d0208c"/><circle cx="417.3" cy="510.1" r="0.68" fill="#ff2a6a"/><circle cx="453.0" cy="515.0" r="0.46" fill="#ff2a6a"/><circle cx="428.4" cy="550.5" r="0.66" fill="#d0208c"/><circle cx="408.8" cy="513.6" r="0.57" fill="#e0147a"/><circle cx="385.6" cy="573.4" r="0.59" fill="#d0208c"/><circle cx="387.3" cy="547.7" r="0.80" fill="#ff2a6a"/><circle cx="385.0" cy="557.2" r="0.55" fill="#e0147a"/><circle cx="409.6" cy="520.0" r="0.57" fill="#e0147a"/><circle cx="417.8" cy="574.7" r="0.58" fill="#b01ab0"/><circle cx="469.6" cy="574.8" r="0.46" fill="#e0147a"/><circle cx="452.9" cy="525.7" r="0.56" fill="#e0147a"/><circle cx="408.8" cy="512.5" r="0.53" fill="#d0208c"/><circle cx="466.8" cy="525.2" r="0.45" fill="#b01ab0"/><circle cx="373.6" cy="491.7" r="0.53" fill="#d0208c"/><circle cx="402.9" cy="481.7" r="0.51" fill="#ff2a6a"/><circle cx="458.8" cy="491.1" r="0.47" fill="#d0208c"/><circle cx="365.5" cy="585.5" r="0.47" fill="#ff2a6a"/><circle cx="403.6" cy="565.4" r="0.65" fill="#e0147a"/><circle cx="460.2" cy="587.4" r="0.74" fill="#e0147a"/><circle cx="404.6" cy="515.0" r="0.47" fill="#b01ab0"/><circle cx="434.7" cy="570.0" r="0.59" fill="#d0208c"/><circle cx="378.3" cy="537.6" r="0.52" fill="#d0208c"/><circle cx="415.5" cy="517.8" r="0.69" fill="#e0147a"/><circle cx="408.7" cy="583.4" r="0.67" fill="#ff2a6a"/><circle cx="445.1" cy="547.2" r="0.46" fill="#e0147a"/><circle cx="408.5" cy="548.4" r="0.63" fill="#d0208c"/></g>
<path d="M368.7,501.1 L382.6,506.3 L396.2,511.0 L410.3,515.7 L421.3,508.6" fill="none" stroke="#f4f4f4" stroke-width="1.4" stroke-linecap="round" stroke-dasharray="0.01 4.6"/>
<path d="M362.4,508.6 L372.3,515.2 L381.2,520.8 L390.1,526.5 L398.6,530.7 L407.5,534.9" fill="none" stroke="#f4f4f4" stroke-width="1.4" stroke-linecap="round" stroke-dasharray="0.01 4.6"/>
<path d="M361.5,525.5 L370.9,528.8 L380.3,531.6 L390.6,549.5 L399.7,555.5 L410.3,563.2" fill="none" stroke="#f4f4f4" stroke-width="1.4" stroke-linecap="round" stroke-dasharray="0.01 4.6"/>
<path d="M415.6,506.7 L426.9,503.5 L446.1,510.0 L455.0,513.8 L463.5,519.9 L465.8,523.1 L465.3,526.5 L455.9,526.9 L446.6,524.1 L437.7,519.9 L429.2,515.2 L420.3,509.5" fill="none" stroke="#f4f4f4" stroke-width="1.4" stroke-linecap="round" stroke-dasharray="0.01 4.6"/>
<path d="M415.6,518.0 L424.1,521.7 L433.5,525.0 L442.4,528.3 L446.6,531.5" fill="none" stroke="#f4f4f4" stroke-width="1.4" stroke-linecap="round" stroke-dasharray="0.01 4.6"/>
<path d="M417.5,540.3 L426.9,544.9 L436.3,547.8 L445.7,546.3 L453.7,543.1 L454.1,537.9" fill="none" stroke="#f4f4f4" stroke-width="1.4" stroke-linecap="round" stroke-dasharray="0.01 4.6"/>
<path d="M418.0,550.1 L432.1,554.3 L446.1,560.0 L459.2,566.5 L468.2,570.7" fill="none" stroke="#f4f4f4" stroke-width="1.4" stroke-linecap="round" stroke-dasharray="0.01 4.6"/>
<path d="M414.7,564.6 L427.8,571.7 L441.9,576.8 L455.5,582.4 L460.2,583.8" fill="none" stroke="#f4f4f4" stroke-width="1.4" stroke-linecap="round" stroke-dasharray="0.01 4.6"/>
<path d="M393.4,538.5 L403.7,543.5 L414.0,548.5" fill="none" stroke="#f4f4f4" stroke-width="1.4" stroke-linecap="round" stroke-dasharray="0.01 4.6"/>
<text x="425.00" y="491.10" font-size="11.4" text-anchor="end" fill="#2020e8">DAPI</text>
<text x="432.00" y="491.10" font-size="11.4" text-anchor="start" fill="#e8141e">Adipoq</text>
<line x1="452.70" y1="589.80" x2="468.70" y2="589.80" stroke="#fff" stroke-width="1.3"/>
</g>
<defs><clipPath id="clip4"><rect x="472.50" y="480.5" width="112.30" height="111.50"/></clipPath><filter id="st4" x="392.5" y="400.5" width="272.29999999999995" height="271.5" filterUnits="userSpaceOnUse" color-interpolation-filters="sRGB"><feGaussianBlur in="SourceGraphic" stdDeviation="3" result="m"/><feTurbulence type="fractalNoise" baseFrequency="0.05 0.22" numOctaves="2" seed="13" result="n"/><feColorMatrix in="n" type="matrix" values="0 0 0 0 0.08  0 0 0 0 0.06  0 0 0 0 0.92  5 0 0 0 -2.0" result="c"/><feComposite in="c" in2="m" operator="arithmetic" k1="1" k2="0" k3="0" k4="0"/></filter><filter id="cl4" x="392.5" y="400.5" width="272.29999999999995" height="271.5" filterUnits="userSpaceOnUse" color-interpolation-filters="sRGB"><feGaussianBlur in="SourceGraphic" stdDeviation="3" result="m"/><feTurbulence type="fractalNoise" baseFrequency="0.26 0.4" numOctaves="1" seed="14" result="n"/><feColorMatrix in="n" type="matrix" values="0 0 0 0 0.2  0 0 0 0 0.2  0 0 0 0 1  12 0 0 0 -6.0" result="c"/><feGaussianBlur in="c" stdDeviation="0.3" result="cb"/><feComposite in="cb" in2="m" operator="arithmetic" k1="1" k2="0" k3="0" k4="0"/></filter><filter id="pk4" x="392.5" y="400.5" width="272.29999999999995" height="271.5" filterUnits="userSpaceOnUse" color-interpolation-filters="sRGB"><feGaussianBlur in="SourceGraphic" stdDeviation="1.6" result="m"/><feTurbulence type="fractalNoise" baseFrequency="0.45" numOctaves="1" seed="15" result="n"/><feColorMatrix in="n" type="matrix" values="0 0 0 0 1  0 0 0 0 0.1  0 0 0 0 0.45  9 0 0 0 -3.5" result="c"/><feComposite in="c" in2="m" operator="arithmetic" k1="1" k2="0" k3="0" k4="0"/></filter></defs>
<rect x="472.50" y="467.40" width="112.30" height="13.40" fill="#000"/>
<text x="528.65" y="478.30" font-size="11.4" text-anchor="middle" fill="#fff">ΔETreg</text>
<g clip-path="url(#clip4)">
<rect x="472.50" y="480.50" width="112.30" height="111.50" fill="#04031a"/>
<g transform="rotate(30 528.6 536.2)"><g filter="url(#st4)"><g transform="rotate(-30 528.6 536.2)"><polygon points="472.5,490.5 502.5,492.5 528.5,495.5 584.5,502.5 584.5,560.5 472.5,560.5" fill="#fff" opacity="0.85"/><polygon points="472.5,560.5 584.5,560.5 584.5,592.5 472.5,592.5" fill="#fff" opacity="0.7"/><polygon points="472.5,480.5 584.5,480.5 584.5,502.5 528.5,495.5 472.5,490.5" fill="#fff" opacity="0.2"/></g></g></g>
<g transform="rotate(30 528.6 536.2)"><g filter="url(#cl4)"><g transform="rotate(-30 528.6 536.2)"><polygon points="472.5,490.5 502.5,492.5 528.5,495.5 584.5,502.5 584.5,560.5 472.5,560.5" fill="#fff" opacity="0.85"/><polygon points="472.5,560.5 584.5,560.5 584.5,592.5 472.5,592.5" fill="#fff" opacity="0.7"/><polygon points="472.5,480.5 584.5,480.5 584.5,502.5 528.5,495.5 472.5,490.5" fill="#fff" opacity="0.2"/></g></g></g>
<g filter="url(#blur3)">
<polygon points="472.5,480.5 584.5,480.5 584.5,494.5 472.5,490.5" fill="#03021a" opacity="0.75"/>
<polygon points="499.1,557.3 582.6,583.2 586.4,569.8 501.9,547.7" fill="#03021a" opacity="0.8"/>
<polygon points="471.7,590.4 531.7,598.4 533.3,586.6 473.3,578.6" fill="#03021a" opacity="0.85"/>
<polygon points="502.0,581.5 584.0,595.5 585.0,589.5 503.0,575.5" fill="#03021a" opacity="0.6"/>
<polygon points="481.2,514.3 511.2,524.3 513.8,516.7 483.8,506.7" fill="#03021a" opacity="0.5"/>
</g>
<ellipse cx="501.5" cy="538.5" rx="16" ry="7" fill="#f01a5a" opacity="0.6" filter="url(#blur1)" transform="rotate(35 501.5 538.5)"/>
<ellipse cx="542.5" cy="521.5" rx="8" ry="4" fill="#e01a5a" opacity="0.45" filter="url(#blur1)" transform="rotate(25 542.5 521.5)"/>
<g filter="url(#pk4)"><ellipse cx="499.5" cy="537.5" rx="19" ry="9" fill="#fff" opacity="0.95" transform="rotate(35 499.5 537.5)"/><ellipse cx="542.5" cy="521.5" rx="9" ry="5" fill="#fff" opacity="0.75" transform="rotate(25 542.5 521.5)"/></g>
<g opacity="0.8"><circle cx="582.4" cy="486.6" r="0.75" fill="#ff2a6a"/><circle cx="514.2" cy="484.3" r="0.51" fill="#e0147a"/><circle cx="584.2" cy="526.5" r="0.79" fill="#e0147a"/><circle cx="521.9" cy="480.6" r="0.60" fill="#ff2a6a"/><circle cx="499.1" cy="498.2" r="0.53" fill="#ff2a6a"/><circle cx="503.3" cy="567.3" r="0.49" fill="#ff2a6a"/><circle cx="476.3" cy="549.5" r="0.78" fill="#ff2a6a"/><circle cx="537.2" cy="555.3" r="0.64" fill="#b01ab0"/><circle cx="488.5" cy="538.5" r="0.55" fill="#e0147a"/><circle cx="508.7" cy="568.3" r="0.73" fill="#ff2a6a"/><circle cx="546.2" cy="528.1" r="0.52" fill="#d0208c"/><circle cx="495.4" cy="560.9" r="0.61" fill="#ff2a6a"/><circle cx="491.8" cy="494.2" r="0.48" fill="#e0147a"/><circle cx="543.3" cy="504.8" r="0.64" fill="#e0147a"/><circle cx="520.7" cy="541.6" r="0.50" fill="#e0147a"/><circle cx="580.3" cy="575.6" r="0.66" fill="#ff2a6a"/><circle cx="489.7" cy="581.2" r="0.64" fill="#ff2a6a"/><circle cx="547.9" cy="489.0" r="0.46" fill="#e0147a"/><circle cx="542.4" cy="480.9" r="0.47" fill="#b01ab0"/><circle cx="477.4" cy="538.1" r="0.49" fill="#e0147a"/><circle cx="555.1" cy="522.4" r="0.50" fill="#d0208c"/><circle cx="524.0" cy="485.7" r="0.73" fill="#e0147a"/><circle cx="489.8" cy="557.3" r="0.56" fill="#e0147a"/><circle cx="495.9" cy="508.6" r="0.48" fill="#e0147a"/><circle cx="559.6" cy="509.7" r="0.76" fill="#d0208c"/><circle cx="567.7" cy="501.9" r="0.56" fill="#b01ab0"/><circle cx="570.8" cy="513.4" r="0.69" fill="#e0147a"/><circle cx="501.5" cy="534.4" r="0.56" fill="#d0208c"/><circle cx="493.2" cy="584.8" r="0.58" fill="#b01ab0"/><circle cx="520.9" cy="556.1" r="0.68" fill="#ff2a6a"/><circle cx="537.7" cy="574.3" r="0.54" fill="#ff2a6a"/><circle cx="546.1" cy="537.1" r="0.62" fill="#d0208c"/><circle cx="496.1" cy="578.8" r="0.76" fill="#b01ab0"/><circle cx="540.9" cy="486.9" r="0.74" fill="#b01ab0"/><circle cx="491.8" cy="482.3" r="0.52" fill="#e0147a"/><circle cx="545.4" cy="531.6" r="0.69" fill="#e0147a"/><circle cx="565.7" cy="486.7" r="0.73" fill="#e0147a"/><circle cx="559.9" cy="510.1" r="0.63" fill="#b01ab0"/><circle cx="584.7" cy="582.0" r="0.49" fill="#ff2a6a"/><circle cx="475.3" cy="546.3" r="0.54" fill="#e0147a"/><circle cx="499.8" cy="568.2" r="0.45" fill="#e0147a"/><circle cx="486.3" cy="560.7" r="0.70" fill="#ff2a6a"/><circle cx="490.4" cy="527.8" r="0.48" fill="#e0147a"/><circle cx="518.7" cy="525.8" r="0.72" fill="#ff2a6a"/><circle cx="481.7" cy="533.1" r="0.78" fill="#ff2a6a"/><circle cx="550.0" cy="523.7" r="0.68" fill="#e0147a"/><circle cx="484.9" cy="590.1" r="0.65" fill="#b01ab0"/><circle cx="550.8" cy="576.0" r="0.72" fill="#d0208c"/><circle cx="533.1" cy="583.2" r="0.55" fill="#ff2a6a"/><circle cx="544.0" cy="536.4" r="0.71" fill="#b01ab0"/><circle cx="472.8" cy="530.5" r="0.76" fill="#ff2a6a"/><circle cx="491.9" cy="502.6" r="0.64" fill="#ff2a6a"/><circle cx="503.1" cy="491.0" r="0.60" fill="#b01ab0"/><circle cx="475.5" cy="506.5" r="0.49" fill="#b01ab0"/><circle cx="522.1" cy="550.1" r="0.56" fill="#d0208c"/><circle cx="577.0" cy="481.6" r="0.49" fill="#d0208c"/><circle cx="500.9" cy="503.6" r="0.56" fill="#d0208c"/><circle cx="580.7" cy="585.8" r="0.75" fill="#e0147a"/><circle cx="582.0" cy="545.9" r="0.66" fill="#d0208c"/><circle cx="541.4" cy="496.1" r="0.80" fill="#ff2a6a"/><circle cx="516.8" cy="556.9" r="0.70" fill="#e0147a"/><circle cx="515.5" cy="537.7" r="0.57" fill="#d0208c"/><circle cx="545.1" cy="545.8" r="0.69" fill="#ff2a6a"/><circle cx="579.8" cy="544.4" r="0.67" fill="#b01ab0"/><circle cx="561.2" cy="540.9" r="0.47" fill="#d0208c"/><circle cx="511.0" cy="541.5" r="0.54" fill="#b01ab0"/><circle cx="511.3" cy="568.7" r="0.64" fill="#d0208c"/><circle cx="499.4" cy="515.6" r="0.67" fill="#e0147a"/><circle cx="510.8" cy="563.6" r="0.47" fill="#d0208c"/><circle cx="476.6" cy="529.3" r="0.63" fill="#ff2a6a"/><circle cx="526.1" cy="498.2" r="0.56" fill="#e0147a"/><circle cx="516.7" cy="566.1" r="0.65" fill="#e0147a"/><circle cx="525.1" cy="516.2" r="0.69" fill="#b01ab0"/><circle cx="563.2" cy="486.1" r="0.79" fill="#ff2a6a"/><circle cx="555.6" cy="480.5" r="0.63" fill="#d0208c"/><circle cx="544.3" cy="484.1" r="0.56" fill="#d0208c"/><circle cx="569.5" cy="504.4" r="0.61" fill="#ff2a6a"/><circle cx="472.6" cy="506.9" r="0.69" fill="#e0147a"/><circle cx="510.2" cy="542.9" r="0.60" fill="#d0208c"/><circle cx="533.9" cy="588.4" r="0.51" fill="#b01ab0"/><circle cx="538.4" cy="586.0" r="0.47" fill="#b01ab0"/><circle cx="481.7" cy="498.5" r="0.74" fill="#ff2a6a"/><circle cx="525.1" cy="546.5" r="0.65" fill="#e0147a"/><circle cx="491.2" cy="528.0" r="0.50" fill="#e0147a"/><circle cx="554.0" cy="570.5" r="0.61" fill="#d0208c"/><circle cx="511.8" cy="574.4" r="0.53" fill="#b01ab0"/><circle cx="577.4" cy="573.4" r="0.53" fill="#d0208c"/><circle cx="523.5" cy="529.3" r="0.74" fill="#ff2a6a"/><circle cx="552.3" cy="553.9" r="0.63" fill="#d0208c"/><circle cx="502.0" cy="509.8" r="0.52" fill="#ff2a6a"/></g>
<path d="M475.8,505.4 L483.3,511.5 L490.8,518.0 L498.8,524.1 L507.2,528.8 L514.7,534.4 L522.5,540.5" fill="none" stroke="#f4f4f4" stroke-width="1.4" stroke-linecap="round" stroke-dasharray="0.01 4.6"/>
<path d="M499.7,502.5 L507.2,508.6 L514.2,515.7 L521.3,522.7 L527.5,530.5 L539.8,536.8 L556.6,547.1 L573.5,555.5 L581.0,557.5" fill="none" stroke="#f4f4f4" stroke-width="1.4" stroke-linecap="round" stroke-dasharray="0.01 4.6"/>
<path d="M518.0,498.8 L525.5,505.4 L536.0,514.3 L552.9,526.5 L567.9,537.7 L580.1,550.9" fill="none" stroke="#f4f4f4" stroke-width="1.4" stroke-linecap="round" stroke-dasharray="0.01 4.6"/>
<path d="M476.2,526.5 L483.3,533.0" fill="none" stroke="#f4f4f4" stroke-width="1.4" stroke-linecap="round" stroke-dasharray="0.01 4.6"/>
<path d="M474.4,546.8 L482.8,551.5 L491.3,556.7 L499.7,568.0 L493.1,571.2 L483.8,567.5 L474.4,562.8" fill="none" stroke="#f4f4f4" stroke-width="1.4" stroke-linecap="round" stroke-dasharray="0.01 4.6"/>
<line x1="475.00" y1="589.80" x2="490.00" y2="589.80" stroke="#fff" stroke-width="1.3"/>
</g>
<line x1="286.70" y1="484.70" x2="286.70" y2="564.60" stroke="#000" stroke-width="1.4"/>
<line x1="282.70" y1="485.20" x2="286.70" y2="485.20" stroke="#000" stroke-width="1.2"/>
<text x="281.20" y="488.80" font-size="10" text-anchor="end" fill="#000">25</text>
<line x1="282.70" y1="500.94" x2="286.70" y2="500.94" stroke="#000" stroke-width="1.2"/>
<text x="281.20" y="504.54" font-size="10" text-anchor="end" fill="#000">20</text>
<line x1="282.70" y1="516.68" x2="286.70" y2="516.68" stroke="#000" stroke-width="1.2"/>
<text x="281.20" y="520.28" font-size="10" text-anchor="end" fill="#000">15</text>
<line x1="282.70" y1="532.42" x2="286.70" y2="532.42" stroke="#000" stroke-width="1.2"/>
<text x="281.20" y="536.02" font-size="10" text-anchor="end" fill="#000">10</text>
<line x1="282.70" y1="548.16" x2="286.70" y2="548.16" stroke="#000" stroke-width="1.2"/>
<text x="281.20" y="551.76" font-size="10" text-anchor="end" fill="#000">5</text>
<line x1="282.70" y1="563.90" x2="286.70" y2="563.90" stroke="#000" stroke-width="1.2"/>
<text x="281.20" y="567.50" font-size="10" text-anchor="end" fill="#000">0</text>
<line x1="286.00" y1="563.90" x2="338.00" y2="563.90" stroke="#000" stroke-width="1.4"/>
<line x1="301.20" y1="563.90" x2="301.20" y2="567.90" stroke="#000" stroke-width="1.2"/>
<line x1="323.60" y1="563.90" x2="323.60" y2="567.90" stroke="#000" stroke-width="1.2"/>
<text x="0.00" y="0.00" font-size="11.8" text-anchor="middle" fill="#000" transform="translate(266.3,525) rotate(-90)">Fabp7 (spot/cell)</text>
<circle cx="301.20" cy="554.46" r="1.30" fill="#000"/>
<circle cx="301.20" cy="549.84" r="1.30" fill="#000"/>
<circle cx="301.20" cy="547.15" r="1.30" fill="#000"/>
<circle cx="303.90" cy="546.69" r="1.30" fill="#000"/>
<circle cx="298.50" cy="545.92" r="1.30" fill="#000"/>
<circle cx="306.60" cy="545.87" r="1.30" fill="#000"/>
<circle cx="295.80" cy="545.61" r="1.30" fill="#000"/>
<circle cx="298.56" cy="545.03" r="1.30" fill="#000"/>
<circle cx="295.96" cy="544.96" r="1.30" fill="#000"/>
<circle cx="301.20" cy="544.30" r="1.30" fill="#000"/>
<circle cx="303.90" cy="543.18" r="1.30" fill="#000"/>
<circle cx="301.20" cy="541.53" r="1.30" fill="#000"/>
<circle cx="298.50" cy="541.30" r="1.30" fill="#000"/>
<circle cx="305.70" cy="541.26" r="1.30" fill="#000"/>
<circle cx="295.80" cy="541.24" r="1.30" fill="#000"/>
<circle cx="303.00" cy="539.74" r="1.30" fill="#000"/>
<circle cx="300.30" cy="538.99" r="1.30" fill="#000"/>
<circle cx="297.60" cy="538.92" r="1.30" fill="#000"/>
<circle cx="304.80" cy="537.55" r="1.30" fill="#000"/>
<circle cx="302.10" cy="537.08" r="1.30" fill="#000"/>
<circle cx="295.80" cy="537.07" r="1.30" fill="#000"/>
<circle cx="307.50" cy="536.95" r="1.30" fill="#000"/>
<circle cx="299.40" cy="536.08" r="1.30" fill="#000"/>
<circle cx="303.46" cy="535.68" r="1.30" fill="#000"/>
<circle cx="294.00" cy="535.49" r="1.30" fill="#000"/>
<circle cx="294.79" cy="535.41" r="1.30" fill="#000"/>
<circle cx="301.74" cy="535.18" r="1.30" fill="#000"/>
<circle cx="299.19" cy="535.15" r="1.30" fill="#000"/>
<circle cx="294.57" cy="535.04" r="1.30" fill="#000"/>
<circle cx="305.70" cy="534.61" r="1.30" fill="#000"/>
<circle cx="308.40" cy="534.60" r="1.30" fill="#000"/>
<circle cx="296.70" cy="533.81" r="1.30" fill="#000"/>
<circle cx="301.31" cy="533.75" r="1.30" fill="#000"/>
<circle cx="294.26" cy="533.42" r="1.30" fill="#000"/>
<circle cx="300.20" cy="533.39" r="1.30" fill="#000"/>
<circle cx="303.90" cy="532.84" r="1.30" fill="#000"/>
<circle cx="294.75" cy="532.81" r="1.30" fill="#000"/>
<circle cx="306.60" cy="532.30" r="1.30" fill="#000"/>
<circle cx="298.50" cy="531.48" r="1.30" fill="#000"/>
<circle cx="295.06" cy="531.41" r="1.30" fill="#000"/>
<circle cx="301.20" cy="530.59" r="1.30" fill="#000"/>
<circle cx="304.80" cy="530.56" r="1.30" fill="#000"/>
<circle cx="307.50" cy="529.83" r="1.30" fill="#000"/>
<circle cx="296.70" cy="529.32" r="1.30" fill="#000"/>
<circle cx="299.40" cy="528.99" r="1.30" fill="#000"/>
<circle cx="303.00" cy="528.79" r="1.30" fill="#000"/>
<circle cx="294.00" cy="528.74" r="1.30" fill="#000"/>
<circle cx="300.07" cy="528.66" r="1.30" fill="#000"/>
<circle cx="306.10" cy="528.62" r="1.30" fill="#000"/>
<circle cx="308.40" cy="527.46" r="1.30" fill="#000"/>
<circle cx="301.20" cy="526.53" r="1.30" fill="#000"/>
<circle cx="303.90" cy="526.27" r="1.30" fill="#000"/>
<circle cx="298.50" cy="526.17" r="1.30" fill="#000"/>
<circle cx="295.80" cy="526.13" r="1.30" fill="#000"/>
<circle cx="306.60" cy="525.30" r="1.30" fill="#000"/>
<circle cx="295.56" cy="525.29" r="1.30" fill="#000"/>
<circle cx="301.20" cy="523.89" r="1.30" fill="#000"/>
<circle cx="302.10" cy="521.59" r="1.30" fill="#000"/>
<circle cx="301.20" cy="518.71" r="1.30" fill="#000"/>
<circle cx="301.20" cy="516.05" r="1.30" fill="#000"/>
<circle cx="301.20" cy="499.37" r="1.30" fill="#000"/>
<circle cx="323.60" cy="555.08" r="1.3" fill="#fff" stroke="#000" stroke-width="0.8"/>
<circle cx="326.30" cy="554.91" r="1.3" fill="#fff" stroke="#000" stroke-width="0.8"/>
<circle cx="323.60" cy="552.62" r="1.3" fill="#fff" stroke="#000" stroke-width="0.8"/>
<circle cx="326.30" cy="551.94" r="1.3" fill="#fff" stroke="#000" stroke-width="0.8"/>
<circle cx="320.90" cy="551.40" r="1.3" fill="#fff" stroke="#000" stroke-width="0.8"/>
<circle cx="329.00" cy="550.76" r="1.3" fill="#fff" stroke="#000" stroke-width="0.8"/>
<circle cx="318.20" cy="550.70" r="1.3" fill="#fff" stroke="#000" stroke-width="0.8"/>
<circle cx="324.50" cy="550.24" r="1.3" fill="#fff" stroke="#000" stroke-width="0.8"/>
<circle cx="319.45" cy="550.18" r="1.3" fill="#fff" stroke="#000" stroke-width="0.8"/>
<circle cx="325.51" cy="550.06" r="1.3" fill="#fff" stroke="#000" stroke-width="0.8"/>
<circle cx="330.32" cy="549.40" r="1.3" fill="#fff" stroke="#000" stroke-width="0.8"/>
<circle cx="321.80" cy="549.14" r="1.3" fill="#fff" stroke="#000" stroke-width="0.8"/>
<circle cx="316.40" cy="549.04" r="1.3" fill="#fff" stroke="#000" stroke-width="0.8"/>
<circle cx="324.76" cy="548.99" r="1.3" fill="#fff" stroke="#000" stroke-width="0.8"/>
<circle cx="322.05" cy="548.59" r="1.3" fill="#fff" stroke="#000" stroke-width="0.8"/>
<circle cx="330.74" cy="548.53" r="1.3" fill="#fff" stroke="#000" stroke-width="0.8"/>
<circle cx="327.20" cy="548.18" r="1.3" fill="#fff" stroke="#000" stroke-width="0.8"/>
<circle cx="316.80" cy="547.89" r="1.3" fill="#fff" stroke="#000" stroke-width="0.8"/>
<circle cx="328.98" cy="547.88" r="1.3" fill="#fff" stroke="#000" stroke-width="0.8"/>
<circle cx="320.44" cy="547.87" r="1.3" fill="#fff" stroke="#000" stroke-width="0.8"/>
<circle cx="318.26" cy="547.53" r="1.3" fill="#fff" stroke="#000" stroke-width="0.8"/>
<circle cx="317.87" cy="547.45" r="1.3" fill="#fff" stroke="#000" stroke-width="0.8"/>
<circle cx="320.73" cy="547.34" r="1.3" fill="#fff" stroke="#000" stroke-width="0.8"/>
<circle cx="328.34" cy="547.12" r="1.3" fill="#fff" stroke="#000" stroke-width="0.8"/>
<circle cx="318.81" cy="547.11" r="1.3" fill="#fff" stroke="#000" stroke-width="0.8"/>
<circle cx="324.82" cy="547.08" r="1.3" fill="#fff" stroke="#000" stroke-width="0.8"/>
<circle cx="325.68" cy="546.89" r="1.3" fill="#fff" stroke="#000" stroke-width="0.8"/>
<circle cx="321.69" cy="546.57" r="1.3" fill="#fff" stroke="#000" stroke-width="0.8"/>
<circle cx="324.32" cy="546.28" r="1.3" fill="#fff" stroke="#000" stroke-width="0.8"/>
<circle cx="317.04" cy="546.17" r="1.3" fill="#fff" stroke="#000" stroke-width="0.8"/>
<circle cx="330.80" cy="545.93" r="1.3" fill="#fff" stroke="#000" stroke-width="0.8"/>
<circle cx="316.99" cy="545.76" r="1.3" fill="#fff" stroke="#000" stroke-width="0.8"/>
<circle cx="319.19" cy="545.32" r="1.3" fill="#fff" stroke="#000" stroke-width="0.8"/>
<circle cx="327.20" cy="545.01" r="1.3" fill="#fff" stroke="#000" stroke-width="0.8"/>
<circle cx="326.31" cy="544.89" r="1.3" fill="#fff" stroke="#000" stroke-width="0.8"/>
<circle cx="322.51" cy="544.72" r="1.3" fill="#fff" stroke="#000" stroke-width="0.8"/>
<circle cx="320.81" cy="544.69" r="1.3" fill="#fff" stroke="#000" stroke-width="0.8"/>
<circle cx="324.88" cy="544.65" r="1.3" fill="#fff" stroke="#000" stroke-width="0.8"/>
<circle cx="322.90" cy="544.42" r="1.3" fill="#fff" stroke="#000" stroke-width="0.8"/>
<circle cx="320.60" cy="544.38" r="1.3" fill="#fff" stroke="#000" stroke-width="0.8"/>
<circle cx="328.02" cy="544.35" r="1.3" fill="#fff" stroke="#000" stroke-width="0.8"/>
<circle cx="326.58" cy="544.35" r="1.3" fill="#fff" stroke="#000" stroke-width="0.8"/>
<circle cx="319.76" cy="544.22" r="1.3" fill="#fff" stroke="#000" stroke-width="0.8"/>
<circle cx="324.72" cy="544.21" r="1.3" fill="#fff" stroke="#000" stroke-width="0.8"/>
<circle cx="323.98" cy="544.14" r="1.3" fill="#fff" stroke="#000" stroke-width="0.8"/>
<circle cx="329.23" cy="544.06" r="1.3" fill="#fff" stroke="#000" stroke-width="0.8"/>
<circle cx="327.04" cy="544.02" r="1.3" fill="#fff" stroke="#000" stroke-width="0.8"/>
<circle cx="320.42" cy="544.01" r="1.3" fill="#fff" stroke="#000" stroke-width="0.8"/>
<circle cx="330.80" cy="543.81" r="1.3" fill="#fff" stroke="#000" stroke-width="0.8"/>
<circle cx="317.87" cy="543.71" r="1.3" fill="#fff" stroke="#000" stroke-width="0.8"/>
<circle cx="322.37" cy="543.33" r="1.3" fill="#fff" stroke="#000" stroke-width="0.8"/>
<circle cx="327.46" cy="543.03" r="1.3" fill="#fff" stroke="#000" stroke-width="0.8"/>
<circle cx="318.38" cy="542.82" r="1.3" fill="#fff" stroke="#000" stroke-width="0.8"/>
<circle cx="323.43" cy="542.61" r="1.3" fill="#fff" stroke="#000" stroke-width="0.8"/>
<circle cx="316.69" cy="542.50" r="1.3" fill="#fff" stroke="#000" stroke-width="0.8"/>
<circle cx="326.12" cy="542.36" r="1.3" fill="#fff" stroke="#000" stroke-width="0.8"/>
<circle cx="327.57" cy="542.19" r="1.3" fill="#fff" stroke="#000" stroke-width="0.8"/>
<circle cx="324.70" cy="542.16" r="1.3" fill="#fff" stroke="#000" stroke-width="0.8"/>
<circle cx="329.23" cy="542.02" r="1.3" fill="#fff" stroke="#000" stroke-width="0.8"/>
<circle cx="320.81" cy="541.85" r="1.3" fill="#fff" stroke="#000" stroke-width="0.8"/>
<circle cx="326.53" cy="541.83" r="1.3" fill="#fff" stroke="#000" stroke-width="0.8"/>
<circle cx="325.02" cy="541.59" r="1.3" fill="#fff" stroke="#000" stroke-width="0.8"/>
<circle cx="324.80" cy="541.53" r="1.3" fill="#fff" stroke="#000" stroke-width="0.8"/>
<circle cx="322.94" cy="541.47" r="1.3" fill="#fff" stroke="#000" stroke-width="0.8"/>
<circle cx="328.70" cy="541.30" r="1.3" fill="#fff" stroke="#000" stroke-width="0.8"/>
<circle cx="330.27" cy="541.22" r="1.3" fill="#fff" stroke="#000" stroke-width="0.8"/>
<circle cx="323.21" cy="541.20" r="1.3" fill="#fff" stroke="#000" stroke-width="0.8"/>
<circle cx="326.06" cy="541.17" r="1.3" fill="#fff" stroke="#000" stroke-width="0.8"/>
<circle cx="317.01" cy="541.11" r="1.3" fill="#fff" stroke="#000" stroke-width="0.8"/>
<circle cx="326.62" cy="541.08" r="1.3" fill="#fff" stroke="#000" stroke-width="0.8"/>
<circle cx="325.81" cy="541.01" r="1.3" fill="#fff" stroke="#000" stroke-width="0.8"/>
<circle cx="331.00" cy="540.73" r="1.3" fill="#fff" stroke="#000" stroke-width="0.8"/>
<circle cx="328.43" cy="540.65" r="1.3" fill="#fff" stroke="#000" stroke-width="0.8"/>
<circle cx="320.37" cy="540.13" r="1.3" fill="#fff" stroke="#000" stroke-width="0.8"/>
<circle cx="321.89" cy="540.10" r="1.3" fill="#fff" stroke="#000" stroke-width="0.8"/>
<circle cx="326.13" cy="539.95" r="1.3" fill="#fff" stroke="#000" stroke-width="0.8"/>
<circle cx="316.44" cy="539.69" r="1.3" fill="#fff" stroke="#000" stroke-width="0.8"/>
<circle cx="323.03" cy="539.37" r="1.3" fill="#fff" stroke="#000" stroke-width="0.8"/>
<circle cx="318.62" cy="539.36" r="1.3" fill="#fff" stroke="#000" stroke-width="0.8"/>
<circle cx="328.10" cy="538.08" r="1.3" fill="#fff" stroke="#000" stroke-width="0.8"/>
<circle cx="320.90" cy="537.70" r="1.3" fill="#fff" stroke="#000" stroke-width="0.8"/>
<circle cx="325.40" cy="537.56" r="1.3" fill="#fff" stroke="#000" stroke-width="0.8"/>
<circle cx="317.30" cy="537.24" r="1.3" fill="#fff" stroke="#000" stroke-width="0.8"/>
<circle cx="330.80" cy="537.04" r="1.3" fill="#fff" stroke="#000" stroke-width="0.8"/>
<circle cx="317.86" cy="536.99" r="1.3" fill="#fff" stroke="#000" stroke-width="0.8"/>
<circle cx="316.98" cy="536.74" r="1.3" fill="#fff" stroke="#000" stroke-width="0.8"/>
<circle cx="327.62" cy="536.54" r="1.3" fill="#fff" stroke="#000" stroke-width="0.8"/>
<circle cx="323.60" cy="535.83" r="1.3" fill="#fff" stroke="#000" stroke-width="0.8"/>
<circle cx="318.04" cy="535.82" r="1.3" fill="#fff" stroke="#000" stroke-width="0.8"/>
<circle cx="319.81" cy="535.37" r="1.3" fill="#fff" stroke="#000" stroke-width="0.8"/>
<circle cx="321.96" cy="534.84" r="1.3" fill="#fff" stroke="#000" stroke-width="0.8"/>
<circle cx="325.40" cy="533.65" r="1.3" fill="#fff" stroke="#000" stroke-width="0.8"/>
<circle cx="320.00" cy="532.95" r="1.3" fill="#fff" stroke="#000" stroke-width="0.8"/>
<circle cx="322.70" cy="532.30" r="1.3" fill="#fff" stroke="#000" stroke-width="0.8"/>
<circle cx="327.20" cy="532.01" r="1.3" fill="#fff" stroke="#000" stroke-width="0.8"/>
<circle cx="323.60" cy="526.44" r="1.3" fill="#fff" stroke="#000" stroke-width="0.8"/>
<circle cx="325.40" cy="524.55" r="1.3" fill="#fff" stroke="#000" stroke-width="0.8"/>
<circle cx="323.60" cy="522.35" r="1.3" fill="#fff" stroke="#000" stroke-width="0.8"/>
<circle cx="326.30" cy="520.77" r="1.3" fill="#fff" stroke="#000" stroke-width="0.8"/>
<line x1="293.20" y1="534.31" x2="309.20" y2="534.31" stroke="#aaa" stroke-width="1"/>
<line x1="315.60" y1="544.07" x2="331.60" y2="544.07" stroke="#aaa" stroke-width="1"/>
<line x1="300.80" y1="490.20" x2="324.50" y2="490.20" stroke="#000" stroke-width="1.1"/>
<text x="312.65" y="486.80" font-size="8.3" text-anchor="middle" fill="#000">&lt;0.0001</text>
<text x="0.00" y="0.00" font-size="10.2" text-anchor="end" fill="#000" transform="translate(315.50,572.10) rotate(-45)">Control</text>
<text x="0.00" y="0.00" font-size="10.2" text-anchor="end" fill="#000" transform="translate(337.90,572.10) rotate(-45)">ΔETreg</text>
<line x1="632.30" y1="477.20" x2="632.30" y2="565.00" stroke="#000" stroke-width="1.4"/>
<line x1="628.30" y1="477.70" x2="632.30" y2="477.70" stroke="#000" stroke-width="1.2"/>
<text x="626.80" y="481.30" font-size="10" text-anchor="end" fill="#000">15</text>
<line x1="628.30" y1="506.57" x2="632.30" y2="506.57" stroke="#000" stroke-width="1.2"/>
<text x="626.80" y="510.17" font-size="10" text-anchor="end" fill="#000">10</text>
<line x1="628.30" y1="535.43" x2="632.30" y2="535.43" stroke="#000" stroke-width="1.2"/>
<text x="626.80" y="539.03" font-size="10" text-anchor="end" fill="#000">5</text>
<line x1="628.30" y1="564.30" x2="632.30" y2="564.30" stroke="#000" stroke-width="1.2"/>
<text x="626.80" y="567.90" font-size="10" text-anchor="end" fill="#000">0</text>
<line x1="631.60" y1="564.30" x2="678.00" y2="564.30" stroke="#000" stroke-width="1.4"/>
<line x1="647.60" y1="564.30" x2="647.60" y2="568.30" stroke="#000" stroke-width="1.2"/>
<line x1="669.80" y1="564.30" x2="669.80" y2="568.30" stroke="#000" stroke-width="1.2"/>
<text x="0.00" y="0.00" font-size="11.8" text-anchor="middle" fill="#000" transform="translate(612.2,520) rotate(-90)">Adipoq (spot/cell)</text>
<circle cx="647.60" cy="560.84" r="1.30" fill="#000"/>
<circle cx="647.60" cy="551.02" r="1.30" fill="#000"/>
<circle cx="649.40" cy="549.29" r="1.30" fill="#000"/>
<circle cx="647.60" cy="541.81" r="1.30" fill="#000"/>
<circle cx="650.30" cy="541.42" r="1.30" fill="#000"/>
<circle cx="644.90" cy="540.81" r="1.30" fill="#000"/>
<circle cx="652.10" cy="539.75" r="1.30" fill="#000"/>
<circle cx="647.60" cy="539.37" r="1.30" fill="#000"/>
<circle cx="642.20" cy="539.27" r="1.30" fill="#000"/>
<circle cx="652.80" cy="538.57" r="1.30" fill="#000"/>
<circle cx="649.40" cy="537.74" r="1.30" fill="#000"/>
<circle cx="646.70" cy="536.65" r="1.30" fill="#000"/>
<circle cx="650.30" cy="535.50" r="1.30" fill="#000"/>
<circle cx="644.00" cy="535.12" r="1.30" fill="#000"/>
<circle cx="653.00" cy="534.98" r="1.30" fill="#000"/>
<circle cx="647.60" cy="534.12" r="1.30" fill="#000"/>
<circle cx="641.30" cy="534.06" r="1.30" fill="#000"/>
<circle cx="641.73" cy="533.66" r="1.30" fill="#000"/>
<circle cx="647.60" cy="528.44" r="1.30" fill="#000"/>
<circle cx="649.40" cy="526.48" r="1.30" fill="#000"/>
<circle cx="646.70" cy="525.24" r="1.30" fill="#000"/>
<circle cx="650.30" cy="524.26" r="1.30" fill="#000"/>
<circle cx="644.00" cy="523.91" r="1.30" fill="#000"/>
<circle cx="653.00" cy="523.32" r="1.30" fill="#000"/>
<circle cx="647.60" cy="522.82" r="1.30" fill="#000"/>
<circle cx="642.20" cy="522.02" r="1.30" fill="#000"/>
<circle cx="650.30" cy="521.81" r="1.30" fill="#000"/>
<circle cx="645.80" cy="521.08" r="1.30" fill="#000"/>
<circle cx="653.00" cy="520.86" r="1.30" fill="#000"/>
<circle cx="648.50" cy="520.01" r="1.30" fill="#000"/>
<circle cx="646.70" cy="518.25" r="1.30" fill="#000"/>
<circle cx="650.30" cy="518.14" r="1.30" fill="#000"/>
<circle cx="648.50" cy="516.51" r="1.30" fill="#000"/>
<circle cx="647.60" cy="514.01" r="1.30" fill="#000"/>
<circle cx="649.40" cy="512.09" r="1.30" fill="#000"/>
<circle cx="645.80" cy="511.81" r="1.30" fill="#000"/>
<circle cx="652.10" cy="510.79" r="1.30" fill="#000"/>
<circle cx="647.60" cy="508.96" r="1.30" fill="#000"/>
<circle cx="650.30" cy="508.77" r="1.30" fill="#000"/>
<circle cx="644.90" cy="508.65" r="1.30" fill="#000"/>
<circle cx="653.00" cy="508.51" r="1.30" fill="#000"/>
<circle cx="642.20" cy="507.46" r="1.30" fill="#000"/>
<circle cx="646.89" cy="507.28" r="1.30" fill="#000"/>
<circle cx="648.29" cy="506.96" r="1.30" fill="#000"/>
<circle cx="650.30" cy="505.46" r="1.30" fill="#000"/>
<circle cx="647.60" cy="501.19" r="1.30" fill="#000"/>
<circle cx="650.30" cy="500.92" r="1.30" fill="#000"/>
<circle cx="644.90" cy="500.76" r="1.30" fill="#000"/>
<circle cx="653.00" cy="499.57" r="1.30" fill="#000"/>
<circle cx="647.60" cy="496.34" r="1.30" fill="#000"/>
<circle cx="650.30" cy="495.88" r="1.30" fill="#000"/>
<circle cx="645.80" cy="494.27" r="1.30" fill="#000"/>
<circle cx="648.50" cy="493.21" r="1.30" fill="#000"/>
<circle cx="651.20" cy="492.76" r="1.30" fill="#000"/>
<circle cx="644.00" cy="492.21" r="1.30" fill="#000"/>
<circle cx="647.60" cy="489.25" r="1.30" fill="#000"/>
<circle cx="650.30" cy="488.10" r="1.30" fill="#000"/>
<circle cx="646.70" cy="486.94" r="1.30" fill="#000"/>
<circle cx="669.80" cy="560.84" r="1.3" fill="#fff" stroke="#000" stroke-width="0.8"/>
<circle cx="669.80" cy="541.92" r="1.3" fill="#fff" stroke="#000" stroke-width="0.8"/>
<circle cx="672.50" cy="540.95" r="1.3" fill="#fff" stroke="#000" stroke-width="0.8"/>
<circle cx="669.80" cy="539.23" r="1.3" fill="#fff" stroke="#000" stroke-width="0.8"/>
<circle cx="672.50" cy="538.03" r="1.3" fill="#fff" stroke="#000" stroke-width="0.8"/>
<circle cx="667.10" cy="537.90" r="1.3" fill="#fff" stroke="#000" stroke-width="0.8"/>
<circle cx="675.20" cy="537.89" r="1.3" fill="#fff" stroke="#000" stroke-width="0.8"/>
<circle cx="664.40" cy="537.23" r="1.3" fill="#fff" stroke="#000" stroke-width="0.8"/>
<circle cx="675.17" cy="537.17" r="1.3" fill="#fff" stroke="#000" stroke-width="0.8"/>
<circle cx="674.27" cy="537.07" r="1.3" fill="#fff" stroke="#000" stroke-width="0.8"/>
<circle cx="674.90" cy="536.89" r="1.3" fill="#fff" stroke="#000" stroke-width="0.8"/>
<circle cx="666.70" cy="536.85" r="1.3" fill="#fff" stroke="#000" stroke-width="0.8"/>
<circle cx="669.80" cy="536.53" r="1.3" fill="#fff" stroke="#000" stroke-width="0.8"/>
<circle cx="668.61" cy="536.43" r="1.3" fill="#fff" stroke="#000" stroke-width="0.8"/>
<circle cx="667.82" cy="535.52" r="1.3" fill="#fff" stroke="#000" stroke-width="0.8"/>
<circle cx="672.50" cy="535.16" r="1.3" fill="#fff" stroke="#000" stroke-width="0.8"/>
<circle cx="675.18" cy="535.15" r="1.3" fill="#fff" stroke="#000" stroke-width="0.8"/>
<circle cx="665.30" cy="534.63" r="1.3" fill="#fff" stroke="#000" stroke-width="0.8"/>
<circle cx="676.21" cy="534.43" r="1.3" fill="#fff" stroke="#000" stroke-width="0.8"/>
<circle cx="669.80" cy="533.42" r="1.3" fill="#fff" stroke="#000" stroke-width="0.8"/>
<circle cx="672.50" cy="532.38" r="1.3" fill="#fff" stroke="#000" stroke-width="0.8"/>
<circle cx="667.10" cy="532.27" r="1.3" fill="#fff" stroke="#000" stroke-width="0.8"/>
<circle cx="675.20" cy="532.19" r="1.3" fill="#fff" stroke="#000" stroke-width="0.8"/>
<circle cx="664.40" cy="531.20" r="1.3" fill="#fff" stroke="#000" stroke-width="0.8"/>
<circle cx="664.91" cy="531.06" r="1.3" fill="#fff" stroke="#000" stroke-width="0.8"/>
<circle cx="669.80" cy="530.83" r="1.3" fill="#fff" stroke="#000" stroke-width="0.8"/>
<circle cx="673.40" cy="530.13" r="1.3" fill="#fff" stroke="#000" stroke-width="0.8"/>
<circle cx="665.27" cy="530.12" r="1.3" fill="#fff" stroke="#000" stroke-width="0.8"/>
<circle cx="676.10" cy="529.86" r="1.3" fill="#fff" stroke="#000" stroke-width="0.8"/>
<circle cx="666.05" cy="529.80" r="1.3" fill="#fff" stroke="#000" stroke-width="0.8"/>
<circle cx="666.07" cy="528.98" r="1.3" fill="#fff" stroke="#000" stroke-width="0.8"/>
<circle cx="669.59" cy="528.97" r="1.3" fill="#fff" stroke="#000" stroke-width="0.8"/>
<circle cx="671.05" cy="528.59" r="1.3" fill="#fff" stroke="#000" stroke-width="0.8"/>
<circle cx="663.50" cy="528.43" r="1.3" fill="#fff" stroke="#000" stroke-width="0.8"/>
<circle cx="666.48" cy="528.42" r="1.3" fill="#fff" stroke="#000" stroke-width="0.8"/>
<circle cx="662.86" cy="528.10" r="1.3" fill="#fff" stroke="#000" stroke-width="0.8"/>
<circle cx="673.40" cy="527.08" r="1.3" fill="#fff" stroke="#000" stroke-width="0.8"/>
<circle cx="676.10" cy="526.84" r="1.3" fill="#fff" stroke="#000" stroke-width="0.8"/>
<circle cx="668.67" cy="526.82" r="1.3" fill="#fff" stroke="#000" stroke-width="0.8"/>
<circle cx="667.97" cy="526.59" r="1.3" fill="#fff" stroke="#000" stroke-width="0.8"/>
<circle cx="670.73" cy="526.40" r="1.3" fill="#fff" stroke="#000" stroke-width="0.8"/>
<circle cx="665.30" cy="526.10" r="1.3" fill="#fff" stroke="#000" stroke-width="0.8"/>
<circle cx="676.14" cy="525.23" r="1.3" fill="#fff" stroke="#000" stroke-width="0.8"/>
<circle cx="672.47" cy="525.09" r="1.3" fill="#fff" stroke="#000" stroke-width="0.8"/>
<circle cx="670.02" cy="524.98" r="1.3" fill="#fff" stroke="#000" stroke-width="0.8"/>
<circle cx="671.45" cy="524.74" r="1.3" fill="#fff" stroke="#000" stroke-width="0.8"/>
<circle cx="663.50" cy="524.41" r="1.3" fill="#fff" stroke="#000" stroke-width="0.8"/>
<circle cx="667.10" cy="523.95" r="1.3" fill="#fff" stroke="#000" stroke-width="0.8"/>
<circle cx="672.27" cy="523.83" r="1.3" fill="#fff" stroke="#000" stroke-width="0.8"/>
<circle cx="663.56" cy="523.59" r="1.3" fill="#fff" stroke="#000" stroke-width="0.8"/>
<circle cx="675.39" cy="523.48" r="1.3" fill="#fff" stroke="#000" stroke-width="0.8"/>
<circle cx="673.72" cy="523.35" r="1.3" fill="#fff" stroke="#000" stroke-width="0.8"/>
<circle cx="675.04" cy="523.34" r="1.3" fill="#fff" stroke="#000" stroke-width="0.8"/>
<circle cx="673.97" cy="523.21" r="1.3" fill="#fff" stroke="#000" stroke-width="0.8"/>
<circle cx="668.29" cy="523.12" r="1.3" fill="#fff" stroke="#000" stroke-width="0.8"/>
<circle cx="668.39" cy="522.30" r="1.3" fill="#fff" stroke="#000" stroke-width="0.8"/>
<circle cx="664.25" cy="522.07" r="1.3" fill="#fff" stroke="#000" stroke-width="0.8"/>
<circle cx="671.68" cy="522.02" r="1.3" fill="#fff" stroke="#000" stroke-width="0.8"/>
<circle cx="663.67" cy="521.85" r="1.3" fill="#fff" stroke="#000" stroke-width="0.8"/>
<circle cx="663.74" cy="521.75" r="1.3" fill="#fff" stroke="#000" stroke-width="0.8"/>
<circle cx="665.72" cy="521.75" r="1.3" fill="#fff" stroke="#000" stroke-width="0.8"/>
<circle cx="665.07" cy="521.58" r="1.3" fill="#fff" stroke="#000" stroke-width="0.8"/>
<circle cx="676.10" cy="521.03" r="1.3" fill="#fff" stroke="#000" stroke-width="0.8"/>
<circle cx="667.56" cy="520.72" r="1.3" fill="#fff" stroke="#000" stroke-width="0.8"/>
<circle cx="663.54" cy="520.61" r="1.3" fill="#fff" stroke="#000" stroke-width="0.8"/>
<circle cx="662.80" cy="520.54" r="1.3" fill="#fff" stroke="#000" stroke-width="0.8"/>
<circle cx="673.40" cy="520.30" r="1.3" fill="#fff" stroke="#000" stroke-width="0.8"/>
<circle cx="664.92" cy="519.94" r="1.3" fill="#fff" stroke="#000" stroke-width="0.8"/>
<circle cx="669.80" cy="518.82" r="1.3" fill="#fff" stroke="#000" stroke-width="0.8"/>
<circle cx="675.20" cy="518.55" r="1.3" fill="#fff" stroke="#000" stroke-width="0.8"/>
<circle cx="667.10" cy="518.13" r="1.3" fill="#fff" stroke="#000" stroke-width="0.8"/>
<circle cx="672.50" cy="518.03" r="1.3" fill="#fff" stroke="#000" stroke-width="0.8"/>
<circle cx="663.50" cy="517.81" r="1.3" fill="#fff" stroke="#000" stroke-width="0.8"/>
<circle cx="664.22" cy="517.80" r="1.3" fill="#fff" stroke="#000" stroke-width="0.8"/>
<circle cx="667.89" cy="517.78" r="1.3" fill="#fff" stroke="#000" stroke-width="0.8"/>
<circle cx="663.16" cy="517.75" r="1.3" fill="#fff" stroke="#000" stroke-width="0.8"/>
<circle cx="675.04" cy="516.68" r="1.3" fill="#fff" stroke="#000" stroke-width="0.8"/>
<circle cx="669.80" cy="515.71" r="1.3" fill="#fff" stroke="#000" stroke-width="0.8"/>
<circle cx="672.50" cy="515.44" r="1.3" fill="#fff" stroke="#000" stroke-width="0.8"/>
<circle cx="667.10" cy="515.34" r="1.3" fill="#fff" stroke="#000" stroke-width="0.8"/>
<circle cx="664.40" cy="514.86" r="1.3" fill="#fff" stroke="#000" stroke-width="0.8"/>
<circle cx="671.40" cy="514.79" r="1.3" fill="#fff" stroke="#000" stroke-width="0.8"/>
<circle cx="664.88" cy="514.65" r="1.3" fill="#fff" stroke="#000" stroke-width="0.8"/>
<circle cx="675.20" cy="514.13" r="1.3" fill="#fff" stroke="#000" stroke-width="0.8"/>
<circle cx="666.33" cy="513.83" r="1.3" fill="#fff" stroke="#000" stroke-width="0.8"/>
<circle cx="669.80" cy="512.61" r="1.3" fill="#fff" stroke="#000" stroke-width="0.8"/>
<circle cx="672.50" cy="512.22" r="1.3" fill="#fff" stroke="#000" stroke-width="0.8"/>
<circle cx="664.40" cy="512.01" r="1.3" fill="#fff" stroke="#000" stroke-width="0.8"/>
<circle cx="667.10" cy="511.46" r="1.3" fill="#fff" stroke="#000" stroke-width="0.8"/>
<circle cx="675.20" cy="510.86" r="1.3" fill="#fff" stroke="#000" stroke-width="0.8"/>
<circle cx="667.66" cy="510.59" r="1.3" fill="#fff" stroke="#000" stroke-width="0.8"/>
<circle cx="667.90" cy="510.44" r="1.3" fill="#fff" stroke="#000" stroke-width="0.8"/>
<circle cx="669.80" cy="508.82" r="1.3" fill="#fff" stroke="#000" stroke-width="0.8"/>
<circle cx="672.50" cy="508.13" r="1.3" fill="#fff" stroke="#000" stroke-width="0.8"/>
<circle cx="668.00" cy="506.90" r="1.3" fill="#fff" stroke="#000" stroke-width="0.8"/>
<circle cx="665.30" cy="506.81" r="1.3" fill="#fff" stroke="#000" stroke-width="0.8"/>
<circle cx="669.80" cy="497.91" r="1.3" fill="#fff" stroke="#000" stroke-width="0.8"/>
<circle cx="672.50" cy="496.76" r="1.3" fill="#fff" stroke="#000" stroke-width="0.8"/>
<circle cx="669.80" cy="492.14" r="1.3" fill="#fff" stroke="#000" stroke-width="0.8"/>
<line x1="639.60" y1="521.00" x2="655.60" y2="521.00" stroke="#aaa" stroke-width="1"/>
<line x1="661.80" y1="526.20" x2="677.80" y2="526.20" stroke="#aaa" stroke-width="1"/>
<line x1="647.20" y1="477.30" x2="670.40" y2="477.30" stroke="#000" stroke-width="1.1"/>
<text x="658.80" y="473.40" font-size="8.3" text-anchor="middle" fill="#000">0.0316</text>
<text x="0.00" y="0.00" font-size="10.2" text-anchor="end" fill="#000" transform="translate(655.70,570.10) rotate(-45)">Control</text>
<text x="0.00" y="0.00" font-size="10.2" text-anchor="end" fill="#000" transform="translate(677.90,570.10) rotate(-45)">ΔETreg</text>
</svg>
</body></html>
